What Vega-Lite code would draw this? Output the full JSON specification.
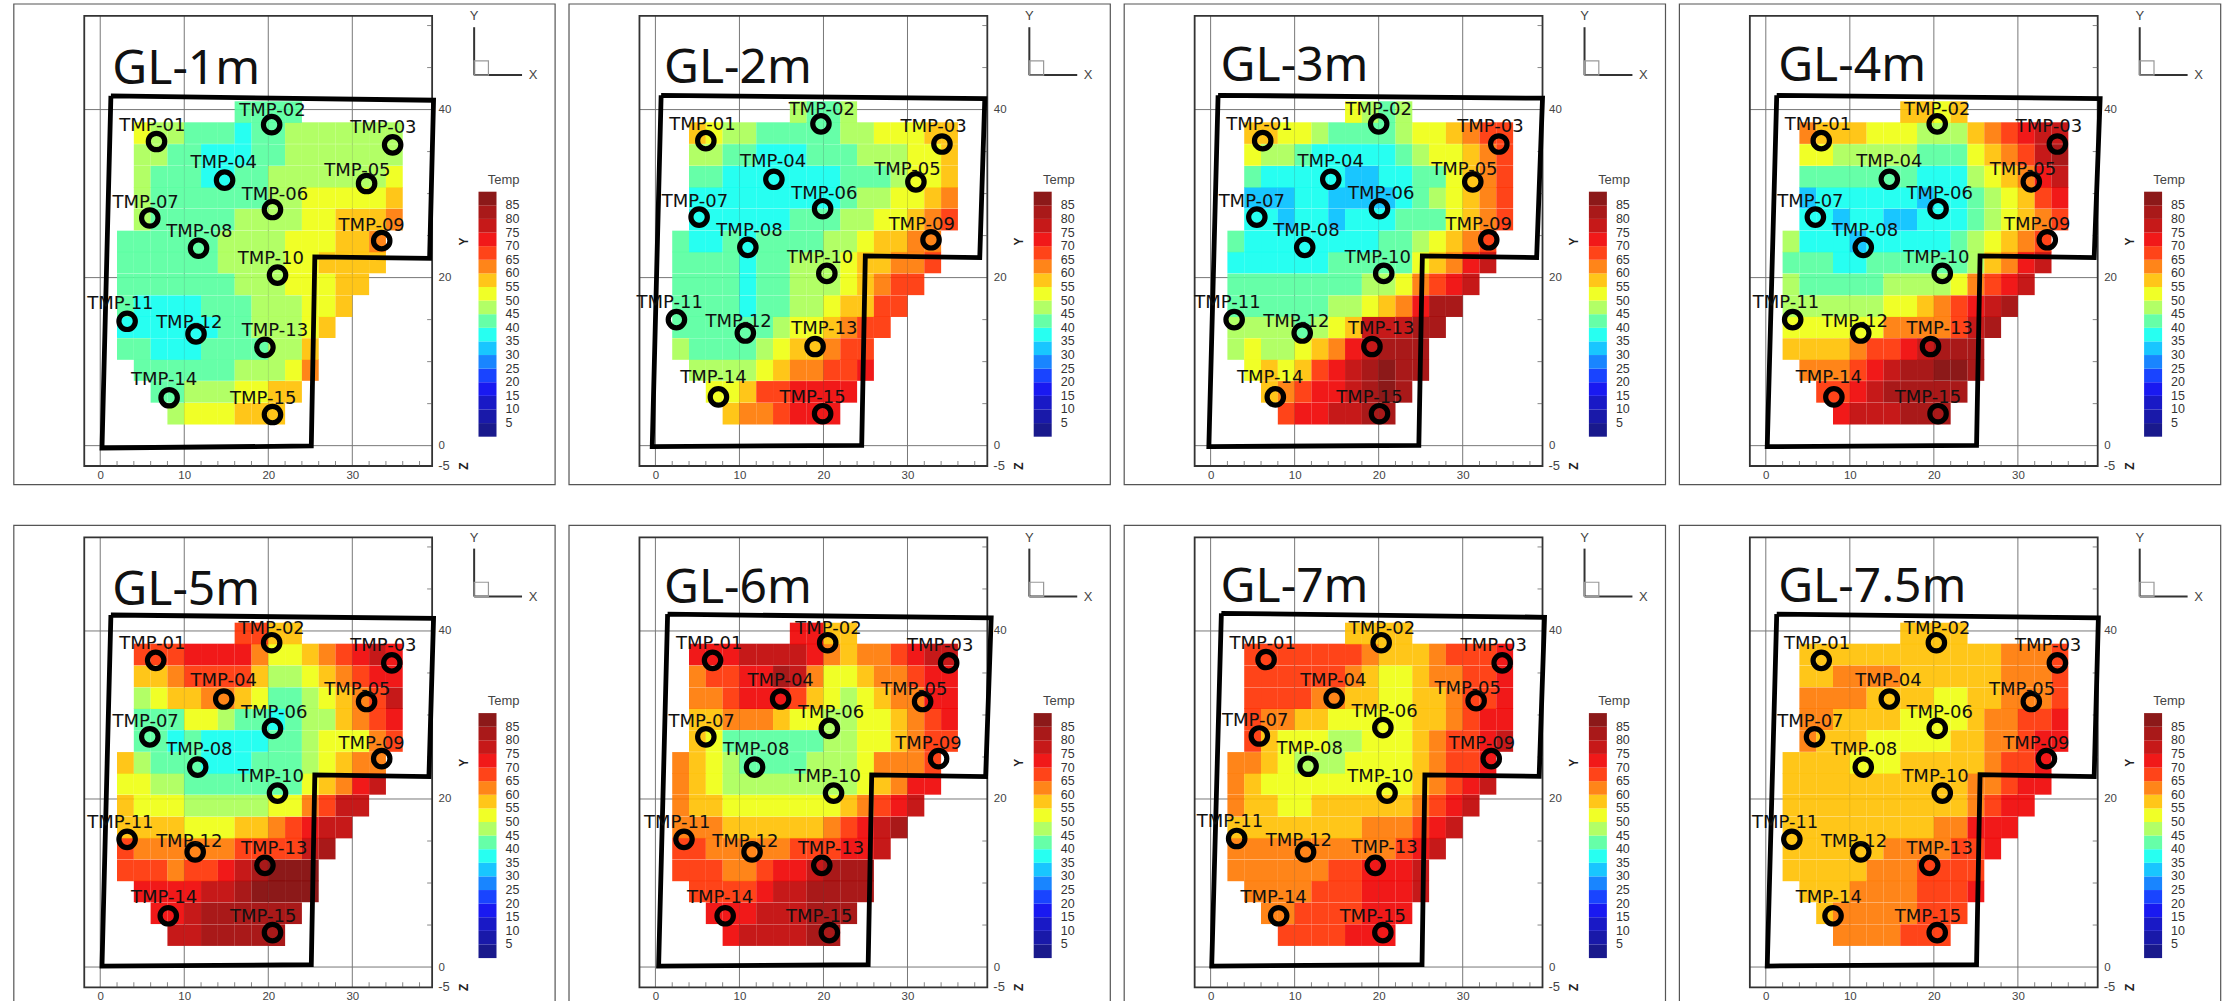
{"$schema":"https://vega.github.io/schema/vega-lite/v6.json","padding":{"left":12.5,"top":2.7,"right":0,"bottom":0},"background":"white","config":{"view":{"stroke":"#555","strokeWidth":1.2,"fill":"white"},"header":{"title":null,"labels":false,"labelExpr":"''","labelFontSize":0.01,"labelPadding":0,"titlePadding":0}},"data":{"values":[
{"p":1,"x":9,"y":3.8,"t":47},{"p":1,"x":11,"y":3.8,"t":52},{"p":1,"x":13,"y":3.8,"t":52},{"p":1,"x":15,"y":3.8,"t":52},{"p":1,"x":17,"y":3.8,"t":57},{"p":1,"x":19,"y":3.8,"t":57},{"p":1,"x":21,"y":3.8,"t":57},
{"p":1,"x":7,"y":6.4,"t":42},{"p":1,"x":9,"y":6.4,"t":42},{"p":1,"x":11,"y":6.4,"t":47},{"p":1,"x":13,"y":6.4,"t":47},{"p":1,"x":15,"y":6.4,"t":47},{"p":1,"x":17,"y":6.4,"t":52},{"p":1,"x":19,"y":6.4,"t":52},{"p":1,"x":21,"y":6.4,"t":57},{"p":1,"x":23,"y":6.4,"t":57},
{"p":1,"x":5,"y":9,"t":42},{"p":1,"x":7,"y":9,"t":42},{"p":1,"x":9,"y":9,"t":42},{"p":1,"x":11,"y":9,"t":42},{"p":1,"x":13,"y":9,"t":42},{"p":1,"x":15,"y":9,"t":42},{"p":1,"x":17,"y":9,"t":47},{"p":1,"x":19,"y":9,"t":47},{"p":1,"x":21,"y":9,"t":47},{"p":1,"x":23,"y":9,"t":52},{"p":1,"x":25,"y":9,"t":62},
{"p":1,"x":3,"y":11.5,"t":42},{"p":1,"x":5,"y":11.5,"t":42},{"p":1,"x":7,"y":11.5,"t":37},{"p":1,"x":9,"y":11.5,"t":37},{"p":1,"x":11,"y":11.5,"t":37},{"p":1,"x":13,"y":11.5,"t":42},{"p":1,"x":15,"y":11.5,"t":42},{"p":1,"x":17,"y":11.5,"t":42},{"p":1,"x":19,"y":11.5,"t":42},{"p":1,"x":21,"y":11.5,"t":47},{"p":1,"x":23,"y":11.5,"t":47},{"p":1,"x":25,"y":11.5,"t":57},
{"p":1,"x":3,"y":14.1,"t":37},{"p":1,"x":5,"y":14.1,"t":37},{"p":1,"x":7,"y":14.1,"t":37},{"p":1,"x":9,"y":14.1,"t":37},{"p":1,"x":11,"y":14.1,"t":37},{"p":1,"x":13,"y":14.1,"t":37},{"p":1,"x":15,"y":14.1,"t":42},{"p":1,"x":17,"y":14.1,"t":42},{"p":1,"x":19,"y":14.1,"t":47},{"p":1,"x":21,"y":14.1,"t":47},{"p":1,"x":23,"y":14.1,"t":47},{"p":1,"x":25,"y":14.1,"t":52},{"p":1,"x":27,"y":14.1,"t":57},
{"p":1,"x":3,"y":16.6,"t":42},{"p":1,"x":5,"y":16.6,"t":37},{"p":1,"x":7,"y":16.6,"t":37},{"p":1,"x":9,"y":16.6,"t":37},{"p":1,"x":11,"y":16.6,"t":37},{"p":1,"x":13,"y":16.6,"t":42},{"p":1,"x":15,"y":16.6,"t":42},{"p":1,"x":17,"y":16.6,"t":42},{"p":1,"x":19,"y":16.6,"t":47},{"p":1,"x":21,"y":16.6,"t":47},{"p":1,"x":23,"y":16.6,"t":47},{"p":1,"x":25,"y":16.6,"t":52},{"p":1,"x":27,"y":16.6,"t":52},{"p":1,"x":29,"y":16.6,"t":57},
{"p":1,"x":3,"y":19.2,"t":42},{"p":1,"x":5,"y":19.2,"t":42},{"p":1,"x":7,"y":19.2,"t":42},{"p":1,"x":9,"y":19.2,"t":42},{"p":1,"x":11,"y":19.2,"t":42},{"p":1,"x":13,"y":19.2,"t":42},{"p":1,"x":15,"y":19.2,"t":42},{"p":1,"x":17,"y":19.2,"t":47},{"p":1,"x":19,"y":19.2,"t":47},{"p":1,"x":21,"y":19.2,"t":47},{"p":1,"x":23,"y":19.2,"t":52},{"p":1,"x":25,"y":19.2,"t":52},{"p":1,"x":27,"y":19.2,"t":52},{"p":1,"x":29,"y":19.2,"t":57},{"p":1,"x":31,"y":19.2,"t":57},
{"p":1,"x":3,"y":21.8,"t":42},{"p":1,"x":5,"y":21.8,"t":42},{"p":1,"x":7,"y":21.8,"t":42},{"p":1,"x":9,"y":21.8,"t":42},{"p":1,"x":11,"y":21.8,"t":42},{"p":1,"x":13,"y":21.8,"t":42},{"p":1,"x":15,"y":21.8,"t":47},{"p":1,"x":17,"y":21.8,"t":47},{"p":1,"x":19,"y":21.8,"t":47},{"p":1,"x":21,"y":21.8,"t":47},{"p":1,"x":23,"y":21.8,"t":52},{"p":1,"x":25,"y":21.8,"t":52},{"p":1,"x":27,"y":21.8,"t":57},{"p":1,"x":29,"y":21.8,"t":57},{"p":1,"x":31,"y":21.8,"t":57},{"p":1,"x":33,"y":21.8,"t":57},
{"p":1,"x":3,"y":24.3,"t":42},{"p":1,"x":5,"y":24.3,"t":42},{"p":1,"x":7,"y":24.3,"t":42},{"p":1,"x":9,"y":24.3,"t":42},{"p":1,"x":11,"y":24.3,"t":42},{"p":1,"x":13,"y":24.3,"t":42},{"p":1,"x":15,"y":24.3,"t":47},{"p":1,"x":17,"y":24.3,"t":47},{"p":1,"x":19,"y":24.3,"t":47},{"p":1,"x":21,"y":24.3,"t":47},{"p":1,"x":23,"y":24.3,"t":52},{"p":1,"x":25,"y":24.3,"t":52},{"p":1,"x":27,"y":24.3,"t":52},{"p":1,"x":29,"y":24.3,"t":57},{"p":1,"x":31,"y":24.3,"t":57},{"p":1,"x":33,"y":24.3,"t":62},
{"p":1,"x":5,"y":26.9,"t":47},{"p":1,"x":7,"y":26.9,"t":42},{"p":1,"x":9,"y":26.9,"t":42},{"p":1,"x":11,"y":26.9,"t":42},{"p":1,"x":13,"y":26.9,"t":42},{"p":1,"x":15,"y":26.9,"t":42},{"p":1,"x":17,"y":26.9,"t":47},{"p":1,"x":19,"y":26.9,"t":47},{"p":1,"x":21,"y":26.9,"t":47},{"p":1,"x":23,"y":26.9,"t":47},{"p":1,"x":25,"y":26.9,"t":52},{"p":1,"x":27,"y":26.9,"t":52},{"p":1,"x":29,"y":26.9,"t":57},{"p":1,"x":31,"y":26.9,"t":57},{"p":1,"x":33,"y":26.9,"t":57},{"p":1,"x":35,"y":26.9,"t":62},
{"p":1,"x":5,"y":29.5,"t":47},{"p":1,"x":7,"y":29.5,"t":42},{"p":1,"x":9,"y":29.5,"t":42},{"p":1,"x":11,"y":29.5,"t":42},{"p":1,"x":13,"y":29.5,"t":42},{"p":1,"x":15,"y":29.5,"t":42},{"p":1,"x":17,"y":29.5,"t":42},{"p":1,"x":19,"y":29.5,"t":42},{"p":1,"x":21,"y":29.5,"t":47},{"p":1,"x":23,"y":29.5,"t":47},{"p":1,"x":25,"y":29.5,"t":52},{"p":1,"x":27,"y":29.5,"t":52},{"p":1,"x":29,"y":29.5,"t":52},{"p":1,"x":31,"y":29.5,"t":52},{"p":1,"x":33,"y":29.5,"t":52},{"p":1,"x":35,"y":29.5,"t":57},
{"p":1,"x":5,"y":32,"t":47},{"p":1,"x":7,"y":32,"t":42},{"p":1,"x":9,"y":32,"t":42},{"p":1,"x":11,"y":32,"t":42},{"p":1,"x":13,"y":32,"t":37},{"p":1,"x":15,"y":32,"t":37},{"p":1,"x":17,"y":32,"t":42},{"p":1,"x":19,"y":32,"t":42},{"p":1,"x":21,"y":32,"t":47},{"p":1,"x":23,"y":32,"t":47},{"p":1,"x":25,"y":32,"t":47},{"p":1,"x":27,"y":32,"t":47},{"p":1,"x":29,"y":32,"t":47},{"p":1,"x":31,"y":32,"t":47},{"p":1,"x":33,"y":32,"t":47},{"p":1,"x":35,"y":32,"t":52},
{"p":1,"x":5,"y":34.6,"t":47},{"p":1,"x":7,"y":34.6,"t":47},{"p":1,"x":9,"y":34.6,"t":42},{"p":1,"x":11,"y":34.6,"t":42},{"p":1,"x":13,"y":34.6,"t":37},{"p":1,"x":15,"y":34.6,"t":37},{"p":1,"x":17,"y":34.6,"t":37},{"p":1,"x":19,"y":34.6,"t":42},{"p":1,"x":21,"y":34.6,"t":42},{"p":1,"x":23,"y":34.6,"t":47},{"p":1,"x":25,"y":34.6,"t":47},{"p":1,"x":27,"y":34.6,"t":47},{"p":1,"x":29,"y":34.6,"t":47},{"p":1,"x":31,"y":34.6,"t":47},{"p":1,"x":33,"y":34.6,"t":47},{"p":1,"x":35,"y":34.6,"t":47},
{"p":1,"x":5,"y":37.2,"t":52},{"p":1,"x":7,"y":37.2,"t":47},{"p":1,"x":9,"y":37.2,"t":47},{"p":1,"x":11,"y":37.2,"t":42},{"p":1,"x":13,"y":37.2,"t":42},{"p":1,"x":15,"y":37.2,"t":42},{"p":1,"x":17,"y":37.2,"t":37},{"p":1,"x":19,"y":37.2,"t":42},{"p":1,"x":21,"y":37.2,"t":42},{"p":1,"x":23,"y":37.2,"t":47},{"p":1,"x":25,"y":37.2,"t":47},{"p":1,"x":27,"y":37.2,"t":47},{"p":1,"x":29,"y":37.2,"t":47},{"p":1,"x":31,"y":37.2,"t":47},{"p":1,"x":33,"y":37.2,"t":47},{"p":1,"x":35,"y":37.2,"t":47},
{"p":1,"x":17,"y":39.7,"t":42},{"p":1,"x":19,"y":39.7,"t":42},{"p":1,"x":21,"y":39.7,"t":42},{"p":1,"x":23,"y":39.7,"t":42},
{"p":2,"x":9,"y":3.8,"t":57},{"p":2,"x":11,"y":3.8,"t":62},{"p":2,"x":13,"y":3.8,"t":62},{"p":2,"x":15,"y":3.8,"t":67},{"p":2,"x":17,"y":3.8,"t":72},{"p":2,"x":19,"y":3.8,"t":72},{"p":2,"x":21,"y":3.8,"t":72},
{"p":2,"x":7,"y":6.4,"t":52},{"p":2,"x":9,"y":6.4,"t":52},{"p":2,"x":11,"y":6.4,"t":57},{"p":2,"x":13,"y":6.4,"t":67},{"p":2,"x":15,"y":6.4,"t":67},{"p":2,"x":17,"y":6.4,"t":72},{"p":2,"x":19,"y":6.4,"t":72},{"p":2,"x":21,"y":6.4,"t":72},{"p":2,"x":23,"y":6.4,"t":72},
{"p":2,"x":5,"y":9,"t":47},{"p":2,"x":7,"y":9,"t":47},{"p":2,"x":9,"y":9,"t":47},{"p":2,"x":11,"y":9,"t":47},{"p":2,"x":13,"y":9,"t":52},{"p":2,"x":15,"y":9,"t":57},{"p":2,"x":17,"y":9,"t":62},{"p":2,"x":19,"y":9,"t":62},{"p":2,"x":21,"y":9,"t":67},{"p":2,"x":23,"y":9,"t":67},{"p":2,"x":25,"y":9,"t":72},
{"p":2,"x":3,"y":11.5,"t":47},{"p":2,"x":5,"y":11.5,"t":42},{"p":2,"x":7,"y":11.5,"t":42},{"p":2,"x":9,"y":11.5,"t":42},{"p":2,"x":11,"y":11.5,"t":42},{"p":2,"x":13,"y":11.5,"t":47},{"p":2,"x":15,"y":11.5,"t":52},{"p":2,"x":17,"y":11.5,"t":57},{"p":2,"x":19,"y":11.5,"t":57},{"p":2,"x":21,"y":11.5,"t":62},{"p":2,"x":23,"y":11.5,"t":67},{"p":2,"x":25,"y":11.5,"t":67},
{"p":2,"x":3,"y":14.1,"t":42},{"p":2,"x":5,"y":14.1,"t":42},{"p":2,"x":7,"y":14.1,"t":42},{"p":2,"x":9,"y":14.1,"t":42},{"p":2,"x":11,"y":14.1,"t":42},{"p":2,"x":13,"y":14.1,"t":42},{"p":2,"x":15,"y":14.1,"t":47},{"p":2,"x":17,"y":14.1,"t":52},{"p":2,"x":19,"y":14.1,"t":52},{"p":2,"x":21,"y":14.1,"t":57},{"p":2,"x":23,"y":14.1,"t":62},{"p":2,"x":25,"y":14.1,"t":67},{"p":2,"x":27,"y":14.1,"t":67},
{"p":2,"x":3,"y":16.6,"t":42},{"p":2,"x":5,"y":16.6,"t":42},{"p":2,"x":7,"y":16.6,"t":42},{"p":2,"x":9,"y":16.6,"t":42},{"p":2,"x":11,"y":16.6,"t":37},{"p":2,"x":13,"y":16.6,"t":42},{"p":2,"x":15,"y":16.6,"t":42},{"p":2,"x":17,"y":16.6,"t":47},{"p":2,"x":19,"y":16.6,"t":47},{"p":2,"x":21,"y":16.6,"t":52},{"p":2,"x":23,"y":16.6,"t":57},{"p":2,"x":25,"y":16.6,"t":57},{"p":2,"x":27,"y":16.6,"t":67},{"p":2,"x":29,"y":16.6,"t":67},
{"p":2,"x":3,"y":19.2,"t":42},{"p":2,"x":5,"y":19.2,"t":42},{"p":2,"x":7,"y":19.2,"t":42},{"p":2,"x":9,"y":19.2,"t":42},{"p":2,"x":11,"y":19.2,"t":37},{"p":2,"x":13,"y":19.2,"t":42},{"p":2,"x":15,"y":19.2,"t":42},{"p":2,"x":17,"y":19.2,"t":47},{"p":2,"x":19,"y":19.2,"t":47},{"p":2,"x":21,"y":19.2,"t":47},{"p":2,"x":23,"y":19.2,"t":52},{"p":2,"x":25,"y":19.2,"t":57},{"p":2,"x":27,"y":19.2,"t":62},{"p":2,"x":29,"y":19.2,"t":67},{"p":2,"x":31,"y":19.2,"t":67},
{"p":2,"x":3,"y":21.8,"t":42},{"p":2,"x":5,"y":21.8,"t":42},{"p":2,"x":7,"y":21.8,"t":42},{"p":2,"x":9,"y":21.8,"t":42},{"p":2,"x":11,"y":21.8,"t":37},{"p":2,"x":13,"y":21.8,"t":42},{"p":2,"x":15,"y":21.8,"t":42},{"p":2,"x":17,"y":21.8,"t":47},{"p":2,"x":19,"y":21.8,"t":47},{"p":2,"x":21,"y":21.8,"t":47},{"p":2,"x":23,"y":21.8,"t":52},{"p":2,"x":25,"y":21.8,"t":57},{"p":2,"x":27,"y":21.8,"t":57},{"p":2,"x":29,"y":21.8,"t":62},{"p":2,"x":31,"y":21.8,"t":62},{"p":2,"x":33,"y":21.8,"t":67},
{"p":2,"x":3,"y":24.3,"t":42},{"p":2,"x":5,"y":24.3,"t":37},{"p":2,"x":7,"y":24.3,"t":37},{"p":2,"x":9,"y":24.3,"t":42},{"p":2,"x":11,"y":24.3,"t":37},{"p":2,"x":13,"y":24.3,"t":42},{"p":2,"x":15,"y":24.3,"t":42},{"p":2,"x":17,"y":24.3,"t":42},{"p":2,"x":19,"y":24.3,"t":42},{"p":2,"x":21,"y":24.3,"t":47},{"p":2,"x":23,"y":24.3,"t":47},{"p":2,"x":25,"y":24.3,"t":52},{"p":2,"x":27,"y":24.3,"t":57},{"p":2,"x":29,"y":24.3,"t":57},{"p":2,"x":31,"y":24.3,"t":62},{"p":2,"x":33,"y":24.3,"t":62},
{"p":2,"x":5,"y":26.9,"t":37},{"p":2,"x":7,"y":26.9,"t":37},{"p":2,"x":9,"y":26.9,"t":37},{"p":2,"x":11,"y":26.9,"t":37},{"p":2,"x":13,"y":26.9,"t":37},{"p":2,"x":15,"y":26.9,"t":37},{"p":2,"x":17,"y":26.9,"t":42},{"p":2,"x":19,"y":26.9,"t":42},{"p":2,"x":21,"y":26.9,"t":42},{"p":2,"x":23,"y":26.9,"t":47},{"p":2,"x":25,"y":26.9,"t":47},{"p":2,"x":27,"y":26.9,"t":52},{"p":2,"x":29,"y":26.9,"t":52},{"p":2,"x":31,"y":26.9,"t":57},{"p":2,"x":33,"y":26.9,"t":62},{"p":2,"x":35,"y":26.9,"t":67},
{"p":2,"x":5,"y":29.5,"t":37},{"p":2,"x":7,"y":29.5,"t":37},{"p":2,"x":9,"y":29.5,"t":37},{"p":2,"x":11,"y":29.5,"t":37},{"p":2,"x":13,"y":29.5,"t":37},{"p":2,"x":15,"y":29.5,"t":37},{"p":2,"x":17,"y":29.5,"t":37},{"p":2,"x":19,"y":29.5,"t":37},{"p":2,"x":21,"y":29.5,"t":37},{"p":2,"x":23,"y":29.5,"t":42},{"p":2,"x":25,"y":29.5,"t":47},{"p":2,"x":27,"y":29.5,"t":47},{"p":2,"x":29,"y":29.5,"t":52},{"p":2,"x":31,"y":29.5,"t":52},{"p":2,"x":33,"y":29.5,"t":57},{"p":2,"x":35,"y":29.5,"t":62},
{"p":2,"x":5,"y":32,"t":42},{"p":2,"x":7,"y":32,"t":42},{"p":2,"x":9,"y":32,"t":37},{"p":2,"x":11,"y":32,"t":37},{"p":2,"x":13,"y":32,"t":37},{"p":2,"x":15,"y":32,"t":37},{"p":2,"x":17,"y":32,"t":37},{"p":2,"x":19,"y":32,"t":37},{"p":2,"x":21,"y":32,"t":37},{"p":2,"x":23,"y":32,"t":42},{"p":2,"x":25,"y":32,"t":42},{"p":2,"x":27,"y":32,"t":42},{"p":2,"x":29,"y":32,"t":47},{"p":2,"x":31,"y":32,"t":52},{"p":2,"x":33,"y":32,"t":52},{"p":2,"x":35,"y":32,"t":57},
{"p":2,"x":5,"y":34.6,"t":47},{"p":2,"x":7,"y":34.6,"t":47},{"p":2,"x":9,"y":34.6,"t":42},{"p":2,"x":11,"y":34.6,"t":42},{"p":2,"x":13,"y":34.6,"t":37},{"p":2,"x":15,"y":34.6,"t":37},{"p":2,"x":17,"y":34.6,"t":37},{"p":2,"x":19,"y":34.6,"t":42},{"p":2,"x":21,"y":34.6,"t":42},{"p":2,"x":23,"y":34.6,"t":42},{"p":2,"x":25,"y":34.6,"t":47},{"p":2,"x":27,"y":34.6,"t":47},{"p":2,"x":29,"y":34.6,"t":47},{"p":2,"x":31,"y":34.6,"t":52},{"p":2,"x":33,"y":34.6,"t":52},{"p":2,"x":35,"y":34.6,"t":57},
{"p":2,"x":5,"y":37.2,"t":57},{"p":2,"x":7,"y":37.2,"t":52},{"p":2,"x":9,"y":37.2,"t":47},{"p":2,"x":11,"y":37.2,"t":47},{"p":2,"x":13,"y":37.2,"t":42},{"p":2,"x":15,"y":37.2,"t":42},{"p":2,"x":17,"y":37.2,"t":42},{"p":2,"x":19,"y":37.2,"t":42},{"p":2,"x":21,"y":37.2,"t":42},{"p":2,"x":23,"y":37.2,"t":47},{"p":2,"x":25,"y":37.2,"t":47},{"p":2,"x":27,"y":37.2,"t":52},{"p":2,"x":29,"y":37.2,"t":52},{"p":2,"x":31,"y":37.2,"t":52},{"p":2,"x":33,"y":37.2,"t":57},{"p":2,"x":35,"y":37.2,"t":57},
{"p":2,"x":17,"y":39.7,"t":47},{"p":2,"x":19,"y":39.7,"t":42},{"p":2,"x":21,"y":39.7,"t":42},{"p":2,"x":23,"y":39.7,"t":47},
{"p":3,"x":9,"y":3.8,"t":67},{"p":3,"x":11,"y":3.8,"t":72},{"p":3,"x":13,"y":3.8,"t":72},{"p":3,"x":15,"y":3.8,"t":77},{"p":3,"x":17,"y":3.8,"t":77},{"p":3,"x":19,"y":3.8,"t":82},{"p":3,"x":21,"y":3.8,"t":82},
{"p":3,"x":7,"y":6.4,"t":57},{"p":3,"x":9,"y":6.4,"t":62},{"p":3,"x":11,"y":6.4,"t":67},{"p":3,"x":13,"y":6.4,"t":72},{"p":3,"x":15,"y":6.4,"t":72},{"p":3,"x":17,"y":6.4,"t":77},{"p":3,"x":19,"y":6.4,"t":82},{"p":3,"x":21,"y":6.4,"t":87},{"p":3,"x":23,"y":6.4,"t":82},
{"p":3,"x":5,"y":9,"t":52},{"p":3,"x":7,"y":9,"t":57},{"p":3,"x":9,"y":9,"t":52},{"p":3,"x":11,"y":9,"t":57},{"p":3,"x":13,"y":9,"t":67},{"p":3,"x":15,"y":9,"t":72},{"p":3,"x":17,"y":9,"t":77},{"p":3,"x":19,"y":9,"t":82},{"p":3,"x":21,"y":9,"t":87},{"p":3,"x":23,"y":9,"t":82},{"p":3,"x":25,"y":9,"t":82},
{"p":3,"x":3,"y":11.5,"t":47},{"p":3,"x":5,"y":11.5,"t":52},{"p":3,"x":7,"y":11.5,"t":47},{"p":3,"x":9,"y":11.5,"t":47},{"p":3,"x":11,"y":11.5,"t":52},{"p":3,"x":13,"y":11.5,"t":57},{"p":3,"x":15,"y":11.5,"t":62},{"p":3,"x":17,"y":11.5,"t":72},{"p":3,"x":19,"y":11.5,"t":77},{"p":3,"x":21,"y":11.5,"t":82},{"p":3,"x":23,"y":11.5,"t":82},{"p":3,"x":25,"y":11.5,"t":82},
{"p":3,"x":3,"y":14.1,"t":47},{"p":3,"x":5,"y":14.1,"t":47},{"p":3,"x":7,"y":14.1,"t":47},{"p":3,"x":9,"y":14.1,"t":47},{"p":3,"x":11,"y":14.1,"t":42},{"p":3,"x":13,"y":14.1,"t":47},{"p":3,"x":15,"y":14.1,"t":52},{"p":3,"x":17,"y":14.1,"t":57},{"p":3,"x":19,"y":14.1,"t":77},{"p":3,"x":21,"y":14.1,"t":77},{"p":3,"x":23,"y":14.1,"t":77},{"p":3,"x":25,"y":14.1,"t":82},{"p":3,"x":27,"y":14.1,"t":82},
{"p":3,"x":3,"y":16.6,"t":42},{"p":3,"x":5,"y":16.6,"t":42},{"p":3,"x":7,"y":16.6,"t":42},{"p":3,"x":9,"y":16.6,"t":42},{"p":3,"x":11,"y":16.6,"t":42},{"p":3,"x":13,"y":16.6,"t":42},{"p":3,"x":15,"y":16.6,"t":47},{"p":3,"x":17,"y":16.6,"t":47},{"p":3,"x":19,"y":16.6,"t":52},{"p":3,"x":21,"y":16.6,"t":57},{"p":3,"x":23,"y":16.6,"t":62},{"p":3,"x":25,"y":16.6,"t":72},{"p":3,"x":27,"y":16.6,"t":82},{"p":3,"x":29,"y":16.6,"t":82},
{"p":3,"x":3,"y":19.2,"t":42},{"p":3,"x":5,"y":19.2,"t":42},{"p":3,"x":7,"y":19.2,"t":42},{"p":3,"x":9,"y":19.2,"t":42},{"p":3,"x":11,"y":19.2,"t":42},{"p":3,"x":13,"y":19.2,"t":42},{"p":3,"x":15,"y":19.2,"t":42},{"p":3,"x":17,"y":19.2,"t":42},{"p":3,"x":19,"y":19.2,"t":47},{"p":3,"x":21,"y":19.2,"t":47},{"p":3,"x":23,"y":19.2,"t":52},{"p":3,"x":25,"y":19.2,"t":62},{"p":3,"x":27,"y":19.2,"t":67},{"p":3,"x":29,"y":19.2,"t":72},{"p":3,"x":31,"y":19.2,"t":77},
{"p":3,"x":3,"y":21.8,"t":37},{"p":3,"x":5,"y":21.8,"t":37},{"p":3,"x":7,"y":21.8,"t":37},{"p":3,"x":9,"y":21.8,"t":37},{"p":3,"x":11,"y":21.8,"t":37},{"p":3,"x":13,"y":21.8,"t":37},{"p":3,"x":15,"y":21.8,"t":42},{"p":3,"x":17,"y":21.8,"t":42},{"p":3,"x":19,"y":21.8,"t":42},{"p":3,"x":21,"y":21.8,"t":42},{"p":3,"x":23,"y":21.8,"t":42},{"p":3,"x":25,"y":21.8,"t":52},{"p":3,"x":27,"y":21.8,"t":57},{"p":3,"x":29,"y":21.8,"t":62},{"p":3,"x":31,"y":21.8,"t":72},{"p":3,"x":33,"y":21.8,"t":77},
{"p":3,"x":3,"y":24.3,"t":42},{"p":3,"x":5,"y":24.3,"t":37},{"p":3,"x":7,"y":24.3,"t":37},{"p":3,"x":9,"y":24.3,"t":37},{"p":3,"x":11,"y":24.3,"t":37},{"p":3,"x":13,"y":24.3,"t":37},{"p":3,"x":15,"y":24.3,"t":37},{"p":3,"x":17,"y":24.3,"t":37},{"p":3,"x":19,"y":24.3,"t":37},{"p":3,"x":21,"y":24.3,"t":42},{"p":3,"x":23,"y":24.3,"t":42},{"p":3,"x":25,"y":24.3,"t":47},{"p":3,"x":27,"y":24.3,"t":52},{"p":3,"x":29,"y":24.3,"t":57},{"p":3,"x":31,"y":24.3,"t":62},{"p":3,"x":33,"y":24.3,"t":67},
{"p":3,"x":5,"y":26.9,"t":37},{"p":3,"x":7,"y":26.9,"t":37},{"p":3,"x":9,"y":26.9,"t":32},{"p":3,"x":11,"y":26.9,"t":37},{"p":3,"x":13,"y":26.9,"t":37},{"p":3,"x":15,"y":26.9,"t":32},{"p":3,"x":17,"y":26.9,"t":37},{"p":3,"x":19,"y":26.9,"t":37},{"p":3,"x":21,"y":26.9,"t":37},{"p":3,"x":23,"y":26.9,"t":42},{"p":3,"x":25,"y":26.9,"t":42},{"p":3,"x":27,"y":26.9,"t":42},{"p":3,"x":29,"y":26.9,"t":52},{"p":3,"x":31,"y":26.9,"t":57},{"p":3,"x":33,"y":26.9,"t":62},{"p":3,"x":35,"y":26.9,"t":67},
{"p":3,"x":5,"y":29.5,"t":32},{"p":3,"x":7,"y":29.5,"t":32},{"p":3,"x":9,"y":29.5,"t":32},{"p":3,"x":11,"y":29.5,"t":37},{"p":3,"x":13,"y":29.5,"t":37},{"p":3,"x":15,"y":29.5,"t":32},{"p":3,"x":17,"y":29.5,"t":32},{"p":3,"x":19,"y":29.5,"t":32},{"p":3,"x":21,"y":29.5,"t":32},{"p":3,"x":23,"y":29.5,"t":37},{"p":3,"x":25,"y":29.5,"t":42},{"p":3,"x":27,"y":29.5,"t":47},{"p":3,"x":29,"y":29.5,"t":52},{"p":3,"x":31,"y":29.5,"t":57},{"p":3,"x":33,"y":29.5,"t":62},{"p":3,"x":35,"y":29.5,"t":67},
{"p":3,"x":5,"y":32,"t":42},{"p":3,"x":7,"y":32,"t":37},{"p":3,"x":9,"y":32,"t":37},{"p":3,"x":11,"y":32,"t":37},{"p":3,"x":13,"y":32,"t":37},{"p":3,"x":15,"y":32,"t":37},{"p":3,"x":17,"y":32,"t":32},{"p":3,"x":19,"y":32,"t":32},{"p":3,"x":21,"y":32,"t":37},{"p":3,"x":23,"y":32,"t":37},{"p":3,"x":25,"y":32,"t":42},{"p":3,"x":27,"y":32,"t":42},{"p":3,"x":29,"y":32,"t":52},{"p":3,"x":31,"y":32,"t":57},{"p":3,"x":33,"y":32,"t":62},{"p":3,"x":35,"y":32,"t":67},
{"p":3,"x":5,"y":34.6,"t":52},{"p":3,"x":7,"y":34.6,"t":47},{"p":3,"x":9,"y":34.6,"t":47},{"p":3,"x":11,"y":34.6,"t":42},{"p":3,"x":13,"y":34.6,"t":37},{"p":3,"x":15,"y":34.6,"t":37},{"p":3,"x":17,"y":34.6,"t":37},{"p":3,"x":19,"y":34.6,"t":37},{"p":3,"x":21,"y":34.6,"t":37},{"p":3,"x":23,"y":34.6,"t":42},{"p":3,"x":25,"y":34.6,"t":47},{"p":3,"x":27,"y":34.6,"t":52},{"p":3,"x":29,"y":34.6,"t":52},{"p":3,"x":31,"y":34.6,"t":57},{"p":3,"x":33,"y":34.6,"t":62},{"p":3,"x":35,"y":34.6,"t":67},
{"p":3,"x":5,"y":37.2,"t":57},{"p":3,"x":7,"y":37.2,"t":57},{"p":3,"x":9,"y":37.2,"t":52},{"p":3,"x":11,"y":37.2,"t":52},{"p":3,"x":13,"y":37.2,"t":47},{"p":3,"x":15,"y":37.2,"t":42},{"p":3,"x":17,"y":37.2,"t":42},{"p":3,"x":19,"y":37.2,"t":42},{"p":3,"x":21,"y":37.2,"t":42},{"p":3,"x":23,"y":37.2,"t":47},{"p":3,"x":25,"y":37.2,"t":52},{"p":3,"x":27,"y":37.2,"t":52},{"p":3,"x":29,"y":37.2,"t":57},{"p":3,"x":31,"y":37.2,"t":62},{"p":3,"x":33,"y":37.2,"t":67},{"p":3,"x":35,"y":37.2,"t":67},
{"p":3,"x":17,"y":39.7,"t":52},{"p":3,"x":19,"y":39.7,"t":47},{"p":3,"x":21,"y":39.7,"t":42},{"p":3,"x":23,"y":39.7,"t":47},
{"p":4,"x":9,"y":3.8,"t":72},{"p":4,"x":11,"y":3.8,"t":77},{"p":4,"x":13,"y":3.8,"t":77},{"p":4,"x":15,"y":3.8,"t":77},{"p":4,"x":17,"y":3.8,"t":82},{"p":4,"x":19,"y":3.8,"t":82},{"p":4,"x":21,"y":3.8,"t":82},
{"p":4,"x":7,"y":6.4,"t":67},{"p":4,"x":9,"y":6.4,"t":67},{"p":4,"x":11,"y":6.4,"t":72},{"p":4,"x":13,"y":6.4,"t":77},{"p":4,"x":15,"y":6.4,"t":82},{"p":4,"x":17,"y":6.4,"t":82},{"p":4,"x":19,"y":6.4,"t":82},{"p":4,"x":21,"y":6.4,"t":82},{"p":4,"x":23,"y":6.4,"t":82},
{"p":4,"x":5,"y":9,"t":62},{"p":4,"x":7,"y":9,"t":62},{"p":4,"x":9,"y":9,"t":62},{"p":4,"x":11,"y":9,"t":67},{"p":4,"x":13,"y":9,"t":72},{"p":4,"x":15,"y":9,"t":77},{"p":4,"x":17,"y":9,"t":82},{"p":4,"x":19,"y":9,"t":82},{"p":4,"x":21,"y":9,"t":87},{"p":4,"x":23,"y":9,"t":87},{"p":4,"x":25,"y":9,"t":82},
{"p":4,"x":3,"y":11.5,"t":57},{"p":4,"x":5,"y":11.5,"t":57},{"p":4,"x":7,"y":11.5,"t":57},{"p":4,"x":9,"y":11.5,"t":57},{"p":4,"x":11,"y":11.5,"t":62},{"p":4,"x":13,"y":11.5,"t":67},{"p":4,"x":15,"y":11.5,"t":67},{"p":4,"x":17,"y":11.5,"t":72},{"p":4,"x":19,"y":11.5,"t":77},{"p":4,"x":21,"y":11.5,"t":82},{"p":4,"x":23,"y":11.5,"t":82},{"p":4,"x":25,"y":11.5,"t":82},
{"p":4,"x":3,"y":14.1,"t":52},{"p":4,"x":5,"y":14.1,"t":52},{"p":4,"x":7,"y":14.1,"t":52},{"p":4,"x":9,"y":14.1,"t":52},{"p":4,"x":11,"y":14.1,"t":52},{"p":4,"x":13,"y":14.1,"t":52},{"p":4,"x":15,"y":14.1,"t":62},{"p":4,"x":17,"y":14.1,"t":62},{"p":4,"x":19,"y":14.1,"t":62},{"p":4,"x":21,"y":14.1,"t":62},{"p":4,"x":23,"y":14.1,"t":67},{"p":4,"x":25,"y":14.1,"t":77},{"p":4,"x":27,"y":14.1,"t":82},
{"p":4,"x":3,"y":16.6,"t":47},{"p":4,"x":5,"y":16.6,"t":47},{"p":4,"x":7,"y":16.6,"t":47},{"p":4,"x":9,"y":16.6,"t":47},{"p":4,"x":11,"y":16.6,"t":47},{"p":4,"x":13,"y":16.6,"t":47},{"p":4,"x":15,"y":16.6,"t":52},{"p":4,"x":17,"y":16.6,"t":52},{"p":4,"x":19,"y":16.6,"t":57},{"p":4,"x":21,"y":16.6,"t":62},{"p":4,"x":23,"y":16.6,"t":67},{"p":4,"x":25,"y":16.6,"t":72},{"p":4,"x":27,"y":16.6,"t":77},{"p":4,"x":29,"y":16.6,"t":82},
{"p":4,"x":3,"y":19.2,"t":47},{"p":4,"x":5,"y":19.2,"t":42},{"p":4,"x":7,"y":19.2,"t":42},{"p":4,"x":9,"y":19.2,"t":42},{"p":4,"x":11,"y":19.2,"t":42},{"p":4,"x":13,"y":19.2,"t":42},{"p":4,"x":15,"y":19.2,"t":47},{"p":4,"x":17,"y":19.2,"t":47},{"p":4,"x":19,"y":19.2,"t":47},{"p":4,"x":21,"y":19.2,"t":47},{"p":4,"x":23,"y":19.2,"t":52},{"p":4,"x":25,"y":19.2,"t":62},{"p":4,"x":27,"y":19.2,"t":67},{"p":4,"x":29,"y":19.2,"t":72},{"p":4,"x":31,"y":19.2,"t":77},
{"p":4,"x":3,"y":21.8,"t":42},{"p":4,"x":5,"y":21.8,"t":42},{"p":4,"x":7,"y":21.8,"t":42},{"p":4,"x":9,"y":21.8,"t":37},{"p":4,"x":11,"y":21.8,"t":37},{"p":4,"x":13,"y":21.8,"t":42},{"p":4,"x":15,"y":21.8,"t":42},{"p":4,"x":17,"y":21.8,"t":42},{"p":4,"x":19,"y":21.8,"t":42},{"p":4,"x":21,"y":21.8,"t":42},{"p":4,"x":23,"y":21.8,"t":42},{"p":4,"x":25,"y":21.8,"t":47},{"p":4,"x":27,"y":21.8,"t":57},{"p":4,"x":29,"y":21.8,"t":62},{"p":4,"x":31,"y":21.8,"t":72},{"p":4,"x":33,"y":21.8,"t":77},
{"p":4,"x":3,"y":24.3,"t":47},{"p":4,"x":5,"y":24.3,"t":37},{"p":4,"x":7,"y":24.3,"t":37},{"p":4,"x":9,"y":24.3,"t":37},{"p":4,"x":11,"y":24.3,"t":32},{"p":4,"x":13,"y":24.3,"t":37},{"p":4,"x":15,"y":24.3,"t":37},{"p":4,"x":17,"y":24.3,"t":37},{"p":4,"x":19,"y":24.3,"t":37},{"p":4,"x":21,"y":24.3,"t":37},{"p":4,"x":23,"y":24.3,"t":42},{"p":4,"x":25,"y":24.3,"t":47},{"p":4,"x":27,"y":24.3,"t":52},{"p":4,"x":29,"y":24.3,"t":57},{"p":4,"x":31,"y":24.3,"t":62},{"p":4,"x":33,"y":24.3,"t":67},
{"p":4,"x":5,"y":26.9,"t":37},{"p":4,"x":7,"y":26.9,"t":37},{"p":4,"x":9,"y":26.9,"t":32},{"p":4,"x":11,"y":26.9,"t":37},{"p":4,"x":13,"y":26.9,"t":37},{"p":4,"x":15,"y":26.9,"t":32},{"p":4,"x":17,"y":26.9,"t":32},{"p":4,"x":19,"y":26.9,"t":37},{"p":4,"x":21,"y":26.9,"t":37},{"p":4,"x":23,"y":26.9,"t":37},{"p":4,"x":25,"y":26.9,"t":42},{"p":4,"x":27,"y":26.9,"t":47},{"p":4,"x":29,"y":26.9,"t":52},{"p":4,"x":31,"y":26.9,"t":57},{"p":4,"x":33,"y":26.9,"t":62},{"p":4,"x":35,"y":26.9,"t":67},
{"p":4,"x":5,"y":29.5,"t":32},{"p":4,"x":7,"y":29.5,"t":37},{"p":4,"x":9,"y":29.5,"t":37},{"p":4,"x":11,"y":29.5,"t":37},{"p":4,"x":13,"y":29.5,"t":37},{"p":4,"x":15,"y":29.5,"t":37},{"p":4,"x":17,"y":29.5,"t":37},{"p":4,"x":19,"y":29.5,"t":32},{"p":4,"x":21,"y":29.5,"t":37},{"p":4,"x":23,"y":29.5,"t":37},{"p":4,"x":25,"y":29.5,"t":42},{"p":4,"x":27,"y":29.5,"t":47},{"p":4,"x":29,"y":29.5,"t":52},{"p":4,"x":31,"y":29.5,"t":57},{"p":4,"x":33,"y":29.5,"t":67},{"p":4,"x":35,"y":29.5,"t":72},
{"p":4,"x":5,"y":32,"t":42},{"p":4,"x":7,"y":32,"t":42},{"p":4,"x":9,"y":32,"t":42},{"p":4,"x":11,"y":32,"t":42},{"p":4,"x":13,"y":32,"t":42},{"p":4,"x":15,"y":32,"t":42},{"p":4,"x":17,"y":32,"t":42},{"p":4,"x":19,"y":32,"t":37},{"p":4,"x":21,"y":32,"t":37},{"p":4,"x":23,"y":32,"t":37},{"p":4,"x":25,"y":32,"t":47},{"p":4,"x":27,"y":32,"t":52},{"p":4,"x":29,"y":32,"t":57},{"p":4,"x":31,"y":32,"t":62},{"p":4,"x":33,"y":32,"t":72},{"p":4,"x":35,"y":32,"t":77},
{"p":4,"x":5,"y":34.6,"t":52},{"p":4,"x":7,"y":34.6,"t":52},{"p":4,"x":9,"y":34.6,"t":47},{"p":4,"x":11,"y":34.6,"t":47},{"p":4,"x":13,"y":34.6,"t":47},{"p":4,"x":15,"y":34.6,"t":47},{"p":4,"x":17,"y":34.6,"t":47},{"p":4,"x":19,"y":34.6,"t":42},{"p":4,"x":21,"y":34.6,"t":42},{"p":4,"x":23,"y":34.6,"t":42},{"p":4,"x":25,"y":34.6,"t":52},{"p":4,"x":27,"y":34.6,"t":57},{"p":4,"x":29,"y":34.6,"t":62},{"p":4,"x":31,"y":34.6,"t":67},{"p":4,"x":33,"y":34.6,"t":77},{"p":4,"x":35,"y":34.6,"t":82},
{"p":4,"x":5,"y":37.2,"t":62},{"p":4,"x":7,"y":37.2,"t":57},{"p":4,"x":9,"y":37.2,"t":57},{"p":4,"x":11,"y":37.2,"t":57},{"p":4,"x":13,"y":37.2,"t":52},{"p":4,"x":15,"y":37.2,"t":52},{"p":4,"x":17,"y":37.2,"t":52},{"p":4,"x":19,"y":37.2,"t":47},{"p":4,"x":21,"y":37.2,"t":47},{"p":4,"x":23,"y":37.2,"t":47},{"p":4,"x":25,"y":37.2,"t":57},{"p":4,"x":27,"y":37.2,"t":62},{"p":4,"x":29,"y":37.2,"t":67},{"p":4,"x":31,"y":37.2,"t":72},{"p":4,"x":33,"y":37.2,"t":77},{"p":4,"x":35,"y":37.2,"t":77},
{"p":4,"x":17,"y":39.7,"t":57},{"p":4,"x":19,"y":39.7,"t":57},{"p":4,"x":21,"y":39.7,"t":52},{"p":4,"x":23,"y":39.7,"t":57},
{"p":5,"x":9,"y":3.8,"t":77},{"p":5,"x":11,"y":3.8,"t":77},{"p":5,"x":13,"y":3.8,"t":82},{"p":5,"x":15,"y":3.8,"t":82},{"p":5,"x":17,"y":3.8,"t":82},{"p":5,"x":19,"y":3.8,"t":82},{"p":5,"x":21,"y":3.8,"t":82},
{"p":5,"x":7,"y":6.4,"t":72},{"p":5,"x":9,"y":6.4,"t":72},{"p":5,"x":11,"y":6.4,"t":77},{"p":5,"x":13,"y":6.4,"t":82},{"p":5,"x":15,"y":6.4,"t":82},{"p":5,"x":17,"y":6.4,"t":82},{"p":5,"x":19,"y":6.4,"t":82},{"p":5,"x":21,"y":6.4,"t":82},{"p":5,"x":23,"y":6.4,"t":82},
{"p":5,"x":5,"y":9,"t":72},{"p":5,"x":7,"y":9,"t":72},{"p":5,"x":9,"y":9,"t":72},{"p":5,"x":11,"y":9,"t":72},{"p":5,"x":13,"y":9,"t":77},{"p":5,"x":15,"y":9,"t":77},{"p":5,"x":17,"y":9,"t":82},{"p":5,"x":19,"y":9,"t":87},{"p":5,"x":21,"y":9,"t":87},{"p":5,"x":23,"y":9,"t":87},{"p":5,"x":25,"y":9,"t":87},
{"p":5,"x":3,"y":11.5,"t":67},{"p":5,"x":5,"y":11.5,"t":67},{"p":5,"x":7,"y":11.5,"t":67},{"p":5,"x":9,"y":11.5,"t":62},{"p":5,"x":11,"y":11.5,"t":67},{"p":5,"x":13,"y":11.5,"t":67},{"p":5,"x":15,"y":11.5,"t":72},{"p":5,"x":17,"y":11.5,"t":77},{"p":5,"x":19,"y":11.5,"t":82},{"p":5,"x":21,"y":11.5,"t":87},{"p":5,"x":23,"y":11.5,"t":87},{"p":5,"x":25,"y":11.5,"t":87},
{"p":5,"x":3,"y":14.1,"t":67},{"p":5,"x":5,"y":14.1,"t":62},{"p":5,"x":7,"y":14.1,"t":62},{"p":5,"x":9,"y":14.1,"t":62},{"p":5,"x":11,"y":14.1,"t":62},{"p":5,"x":13,"y":14.1,"t":62},{"p":5,"x":15,"y":14.1,"t":62},{"p":5,"x":17,"y":14.1,"t":67},{"p":5,"x":19,"y":14.1,"t":67},{"p":5,"x":21,"y":14.1,"t":67},{"p":5,"x":23,"y":14.1,"t":67},{"p":5,"x":25,"y":14.1,"t":77},{"p":5,"x":27,"y":14.1,"t":82},
{"p":5,"x":3,"y":16.6,"t":57},{"p":5,"x":5,"y":16.6,"t":57},{"p":5,"x":7,"y":16.6,"t":57},{"p":5,"x":9,"y":16.6,"t":57},{"p":5,"x":11,"y":16.6,"t":52},{"p":5,"x":13,"y":16.6,"t":52},{"p":5,"x":15,"y":16.6,"t":52},{"p":5,"x":17,"y":16.6,"t":57},{"p":5,"x":19,"y":16.6,"t":57},{"p":5,"x":21,"y":16.6,"t":62},{"p":5,"x":23,"y":16.6,"t":67},{"p":5,"x":25,"y":16.6,"t":72},{"p":5,"x":27,"y":16.6,"t":77},{"p":5,"x":29,"y":16.6,"t":77},
{"p":5,"x":3,"y":19.2,"t":57},{"p":5,"x":5,"y":19.2,"t":52},{"p":5,"x":7,"y":19.2,"t":52},{"p":5,"x":9,"y":19.2,"t":52},{"p":5,"x":11,"y":19.2,"t":47},{"p":5,"x":13,"y":19.2,"t":47},{"p":5,"x":15,"y":19.2,"t":47},{"p":5,"x":17,"y":19.2,"t":47},{"p":5,"x":19,"y":19.2,"t":47},{"p":5,"x":21,"y":19.2,"t":52},{"p":5,"x":23,"y":19.2,"t":52},{"p":5,"x":25,"y":19.2,"t":62},{"p":5,"x":27,"y":19.2,"t":67},{"p":5,"x":29,"y":19.2,"t":77},{"p":5,"x":31,"y":19.2,"t":77},
{"p":5,"x":3,"y":21.8,"t":52},{"p":5,"x":5,"y":21.8,"t":52},{"p":5,"x":7,"y":21.8,"t":47},{"p":5,"x":9,"y":21.8,"t":47},{"p":5,"x":11,"y":21.8,"t":42},{"p":5,"x":13,"y":21.8,"t":42},{"p":5,"x":15,"y":21.8,"t":42},{"p":5,"x":17,"y":21.8,"t":42},{"p":5,"x":19,"y":21.8,"t":42},{"p":5,"x":21,"y":21.8,"t":42},{"p":5,"x":23,"y":21.8,"t":42},{"p":5,"x":25,"y":21.8,"t":52},{"p":5,"x":27,"y":21.8,"t":57},{"p":5,"x":29,"y":21.8,"t":62},{"p":5,"x":31,"y":21.8,"t":72},{"p":5,"x":33,"y":21.8,"t":77},
{"p":5,"x":3,"y":24.3,"t":57},{"p":5,"x":5,"y":24.3,"t":47},{"p":5,"x":7,"y":24.3,"t":42},{"p":5,"x":9,"y":24.3,"t":42},{"p":5,"x":11,"y":24.3,"t":42},{"p":5,"x":13,"y":24.3,"t":37},{"p":5,"x":15,"y":24.3,"t":37},{"p":5,"x":17,"y":24.3,"t":37},{"p":5,"x":19,"y":24.3,"t":42},{"p":5,"x":21,"y":24.3,"t":42},{"p":5,"x":23,"y":24.3,"t":42},{"p":5,"x":25,"y":24.3,"t":47},{"p":5,"x":27,"y":24.3,"t":52},{"p":5,"x":29,"y":24.3,"t":57},{"p":5,"x":31,"y":24.3,"t":62},{"p":5,"x":33,"y":24.3,"t":62},
{"p":5,"x":5,"y":26.9,"t":42},{"p":5,"x":7,"y":26.9,"t":42},{"p":5,"x":9,"y":26.9,"t":37},{"p":5,"x":11,"y":26.9,"t":42},{"p":5,"x":13,"y":26.9,"t":37},{"p":5,"x":15,"y":26.9,"t":37},{"p":5,"x":17,"y":26.9,"t":37},{"p":5,"x":19,"y":26.9,"t":37},{"p":5,"x":21,"y":26.9,"t":42},{"p":5,"x":23,"y":26.9,"t":42},{"p":5,"x":25,"y":26.9,"t":47},{"p":5,"x":27,"y":26.9,"t":52},{"p":5,"x":29,"y":26.9,"t":52},{"p":5,"x":31,"y":26.9,"t":52},{"p":5,"x":33,"y":26.9,"t":62},{"p":5,"x":35,"y":26.9,"t":67},
{"p":5,"x":5,"y":29.5,"t":42},{"p":5,"x":7,"y":29.5,"t":42},{"p":5,"x":9,"y":29.5,"t":42},{"p":5,"x":11,"y":29.5,"t":52},{"p":5,"x":13,"y":29.5,"t":52},{"p":5,"x":15,"y":29.5,"t":47},{"p":5,"x":17,"y":29.5,"t":42},{"p":5,"x":19,"y":29.5,"t":42},{"p":5,"x":21,"y":29.5,"t":37},{"p":5,"x":23,"y":29.5,"t":42},{"p":5,"x":25,"y":29.5,"t":47},{"p":5,"x":27,"y":29.5,"t":47},{"p":5,"x":29,"y":29.5,"t":57},{"p":5,"x":31,"y":29.5,"t":62},{"p":5,"x":33,"y":29.5,"t":67},{"p":5,"x":35,"y":29.5,"t":72},
{"p":5,"x":5,"y":32,"t":47},{"p":5,"x":7,"y":32,"t":52},{"p":5,"x":9,"y":32,"t":57},{"p":5,"x":11,"y":32,"t":57},{"p":5,"x":13,"y":32,"t":62},{"p":5,"x":15,"y":32,"t":62},{"p":5,"x":17,"y":32,"t":57},{"p":5,"x":19,"y":32,"t":52},{"p":5,"x":21,"y":32,"t":42},{"p":5,"x":23,"y":32,"t":42},{"p":5,"x":25,"y":32,"t":47},{"p":5,"x":27,"y":32,"t":52},{"p":5,"x":29,"y":32,"t":57},{"p":5,"x":31,"y":32,"t":62},{"p":5,"x":33,"y":32,"t":67},{"p":5,"x":35,"y":32,"t":77},
{"p":5,"x":5,"y":34.6,"t":57},{"p":5,"x":7,"y":34.6,"t":57},{"p":5,"x":9,"y":34.6,"t":62},{"p":5,"x":11,"y":34.6,"t":67},{"p":5,"x":13,"y":34.6,"t":67},{"p":5,"x":15,"y":34.6,"t":67},{"p":5,"x":17,"y":34.6,"t":67},{"p":5,"x":19,"y":34.6,"t":57},{"p":5,"x":21,"y":34.6,"t":47},{"p":5,"x":23,"y":34.6,"t":47},{"p":5,"x":25,"y":34.6,"t":52},{"p":5,"x":27,"y":34.6,"t":57},{"p":5,"x":29,"y":34.6,"t":62},{"p":5,"x":31,"y":34.6,"t":67},{"p":5,"x":33,"y":34.6,"t":72},{"p":5,"x":35,"y":34.6,"t":72},
{"p":5,"x":5,"y":37.2,"t":67},{"p":5,"x":7,"y":37.2,"t":67},{"p":5,"x":9,"y":37.2,"t":67},{"p":5,"x":11,"y":37.2,"t":72},{"p":5,"x":13,"y":37.2,"t":72},{"p":5,"x":15,"y":37.2,"t":72},{"p":5,"x":17,"y":37.2,"t":72},{"p":5,"x":19,"y":37.2,"t":62},{"p":5,"x":21,"y":37.2,"t":52},{"p":5,"x":23,"y":37.2,"t":52},{"p":5,"x":25,"y":37.2,"t":57},{"p":5,"x":27,"y":37.2,"t":62},{"p":5,"x":29,"y":37.2,"t":67},{"p":5,"x":31,"y":37.2,"t":72},{"p":5,"x":33,"y":37.2,"t":77},{"p":5,"x":35,"y":37.2,"t":72},
{"p":5,"x":17,"y":39.7,"t":67},{"p":5,"x":19,"y":39.7,"t":67},{"p":5,"x":21,"y":39.7,"t":57},{"p":5,"x":23,"y":39.7,"t":57},
{"p":6,"x":9,"y":3.8,"t":72},{"p":6,"x":11,"y":3.8,"t":77},{"p":6,"x":13,"y":3.8,"t":77},{"p":6,"x":15,"y":3.8,"t":77},{"p":6,"x":17,"y":3.8,"t":77},{"p":6,"x":19,"y":3.8,"t":82},{"p":6,"x":21,"y":3.8,"t":82},
{"p":6,"x":7,"y":6.4,"t":72},{"p":6,"x":9,"y":6.4,"t":72},{"p":6,"x":11,"y":6.4,"t":72},{"p":6,"x":13,"y":6.4,"t":77},{"p":6,"x":15,"y":6.4,"t":77},{"p":6,"x":17,"y":6.4,"t":77},{"p":6,"x":19,"y":6.4,"t":82},{"p":6,"x":21,"y":6.4,"t":82},{"p":6,"x":23,"y":6.4,"t":82},
{"p":6,"x":5,"y":9,"t":67},{"p":6,"x":7,"y":9,"t":67},{"p":6,"x":9,"y":9,"t":67},{"p":6,"x":11,"y":9,"t":67},{"p":6,"x":13,"y":9,"t":72},{"p":6,"x":15,"y":9,"t":77},{"p":6,"x":17,"y":9,"t":77},{"p":6,"x":19,"y":9,"t":82},{"p":6,"x":21,"y":9,"t":82},{"p":6,"x":23,"y":9,"t":82},{"p":6,"x":25,"y":9,"t":82},
{"p":6,"x":3,"y":11.5,"t":67},{"p":6,"x":5,"y":11.5,"t":67},{"p":6,"x":7,"y":11.5,"t":67},{"p":6,"x":9,"y":11.5,"t":62},{"p":6,"x":11,"y":11.5,"t":62},{"p":6,"x":13,"y":11.5,"t":67},{"p":6,"x":15,"y":11.5,"t":72},{"p":6,"x":17,"y":11.5,"t":72},{"p":6,"x":19,"y":11.5,"t":77},{"p":6,"x":21,"y":11.5,"t":82},{"p":6,"x":23,"y":11.5,"t":82},{"p":6,"x":25,"y":11.5,"t":82},
{"p":6,"x":3,"y":14.1,"t":67},{"p":6,"x":5,"y":14.1,"t":67},{"p":6,"x":7,"y":14.1,"t":62},{"p":6,"x":9,"y":14.1,"t":62},{"p":6,"x":11,"y":14.1,"t":62},{"p":6,"x":13,"y":14.1,"t":62},{"p":6,"x":15,"y":14.1,"t":62},{"p":6,"x":17,"y":14.1,"t":67},{"p":6,"x":19,"y":14.1,"t":67},{"p":6,"x":21,"y":14.1,"t":67},{"p":6,"x":23,"y":14.1,"t":72},{"p":6,"x":25,"y":14.1,"t":72},{"p":6,"x":27,"y":14.1,"t":77},
{"p":6,"x":3,"y":16.6,"t":62},{"p":6,"x":5,"y":16.6,"t":62},{"p":6,"x":7,"y":16.6,"t":62},{"p":6,"x":9,"y":16.6,"t":57},{"p":6,"x":11,"y":16.6,"t":57},{"p":6,"x":13,"y":16.6,"t":57},{"p":6,"x":15,"y":16.6,"t":57},{"p":6,"x":17,"y":16.6,"t":57},{"p":6,"x":19,"y":16.6,"t":57},{"p":6,"x":21,"y":16.6,"t":62},{"p":6,"x":23,"y":16.6,"t":67},{"p":6,"x":25,"y":16.6,"t":72},{"p":6,"x":27,"y":16.6,"t":77},{"p":6,"x":29,"y":16.6,"t":82},
{"p":6,"x":3,"y":19.2,"t":62},{"p":6,"x":5,"y":19.2,"t":57},{"p":6,"x":7,"y":19.2,"t":57},{"p":6,"x":9,"y":19.2,"t":52},{"p":6,"x":11,"y":19.2,"t":52},{"p":6,"x":13,"y":19.2,"t":52},{"p":6,"x":15,"y":19.2,"t":52},{"p":6,"x":17,"y":19.2,"t":52},{"p":6,"x":19,"y":19.2,"t":52},{"p":6,"x":21,"y":19.2,"t":52},{"p":6,"x":23,"y":19.2,"t":57},{"p":6,"x":25,"y":19.2,"t":62},{"p":6,"x":27,"y":19.2,"t":67},{"p":6,"x":29,"y":19.2,"t":72},{"p":6,"x":31,"y":19.2,"t":77},
{"p":6,"x":3,"y":21.8,"t":62},{"p":6,"x":5,"y":21.8,"t":57},{"p":6,"x":7,"y":21.8,"t":52},{"p":6,"x":9,"y":21.8,"t":47},{"p":6,"x":11,"y":21.8,"t":47},{"p":6,"x":13,"y":21.8,"t":47},{"p":6,"x":15,"y":21.8,"t":47},{"p":6,"x":17,"y":21.8,"t":47},{"p":6,"x":19,"y":21.8,"t":47},{"p":6,"x":21,"y":21.8,"t":47},{"p":6,"x":23,"y":21.8,"t":47},{"p":6,"x":25,"y":21.8,"t":52},{"p":6,"x":27,"y":21.8,"t":57},{"p":6,"x":29,"y":21.8,"t":62},{"p":6,"x":31,"y":21.8,"t":72},{"p":6,"x":33,"y":21.8,"t":72},
{"p":6,"x":3,"y":24.3,"t":62},{"p":6,"x":5,"y":24.3,"t":57},{"p":6,"x":7,"y":24.3,"t":52},{"p":6,"x":9,"y":24.3,"t":47},{"p":6,"x":11,"y":24.3,"t":42},{"p":6,"x":13,"y":24.3,"t":42},{"p":6,"x":15,"y":24.3,"t":42},{"p":6,"x":17,"y":24.3,"t":42},{"p":6,"x":19,"y":24.3,"t":47},{"p":6,"x":21,"y":24.3,"t":47},{"p":6,"x":23,"y":24.3,"t":47},{"p":6,"x":25,"y":24.3,"t":52},{"p":6,"x":27,"y":24.3,"t":62},{"p":6,"x":29,"y":24.3,"t":62},{"p":6,"x":31,"y":24.3,"t":62},{"p":6,"x":33,"y":24.3,"t":67},
{"p":6,"x":5,"y":26.9,"t":57},{"p":6,"x":7,"y":26.9,"t":52},{"p":6,"x":9,"y":26.9,"t":42},{"p":6,"x":11,"y":26.9,"t":42},{"p":6,"x":13,"y":26.9,"t":42},{"p":6,"x":15,"y":26.9,"t":42},{"p":6,"x":17,"y":26.9,"t":42},{"p":6,"x":19,"y":26.9,"t":42},{"p":6,"x":21,"y":26.9,"t":47},{"p":6,"x":23,"y":26.9,"t":47},{"p":6,"x":25,"y":26.9,"t":52},{"p":6,"x":27,"y":26.9,"t":52},{"p":6,"x":29,"y":26.9,"t":57},{"p":6,"x":31,"y":26.9,"t":62},{"p":6,"x":33,"y":26.9,"t":67},{"p":6,"x":35,"y":26.9,"t":67},
{"p":6,"x":5,"y":29.5,"t":57},{"p":6,"x":7,"y":29.5,"t":57},{"p":6,"x":9,"y":29.5,"t":62},{"p":6,"x":11,"y":29.5,"t":62},{"p":6,"x":13,"y":29.5,"t":62},{"p":6,"x":15,"y":29.5,"t":57},{"p":6,"x":17,"y":29.5,"t":52},{"p":6,"x":19,"y":29.5,"t":52},{"p":6,"x":21,"y":29.5,"t":47},{"p":6,"x":23,"y":29.5,"t":47},{"p":6,"x":25,"y":29.5,"t":52},{"p":6,"x":27,"y":29.5,"t":52},{"p":6,"x":29,"y":29.5,"t":57},{"p":6,"x":31,"y":29.5,"t":62},{"p":6,"x":33,"y":29.5,"t":67},{"p":6,"x":35,"y":29.5,"t":72},
{"p":6,"x":5,"y":32,"t":62},{"p":6,"x":7,"y":32,"t":62},{"p":6,"x":9,"y":32,"t":67},{"p":6,"x":11,"y":32,"t":72},{"p":6,"x":13,"y":32,"t":72},{"p":6,"x":15,"y":32,"t":72},{"p":6,"x":17,"y":32,"t":67},{"p":6,"x":19,"y":32,"t":57},{"p":6,"x":21,"y":32,"t":52},{"p":6,"x":23,"y":32,"t":47},{"p":6,"x":25,"y":32,"t":52},{"p":6,"x":27,"y":32,"t":57},{"p":6,"x":29,"y":32,"t":62},{"p":6,"x":31,"y":32,"t":62},{"p":6,"x":33,"y":32,"t":72},{"p":6,"x":35,"y":32,"t":72},
{"p":6,"x":5,"y":34.6,"t":62},{"p":6,"x":7,"y":34.6,"t":67},{"p":6,"x":9,"y":34.6,"t":67},{"p":6,"x":11,"y":34.6,"t":72},{"p":6,"x":13,"y":34.6,"t":72},{"p":6,"x":15,"y":34.6,"t":82},{"p":6,"x":17,"y":34.6,"t":77},{"p":6,"x":19,"y":34.6,"t":62},{"p":6,"x":21,"y":34.6,"t":52},{"p":6,"x":23,"y":34.6,"t":52},{"p":6,"x":25,"y":34.6,"t":57},{"p":6,"x":27,"y":34.6,"t":62},{"p":6,"x":29,"y":34.6,"t":62},{"p":6,"x":31,"y":34.6,"t":67},{"p":6,"x":33,"y":34.6,"t":72},{"p":6,"x":35,"y":34.6,"t":72},
{"p":6,"x":5,"y":37.2,"t":72},{"p":6,"x":7,"y":37.2,"t":72},{"p":6,"x":9,"y":37.2,"t":72},{"p":6,"x":11,"y":37.2,"t":77},{"p":6,"x":13,"y":37.2,"t":77},{"p":6,"x":15,"y":37.2,"t":77},{"p":6,"x":17,"y":37.2,"t":77},{"p":6,"x":19,"y":37.2,"t":72},{"p":6,"x":21,"y":37.2,"t":62},{"p":6,"x":23,"y":37.2,"t":57},{"p":6,"x":25,"y":37.2,"t":62},{"p":6,"x":27,"y":37.2,"t":62},{"p":6,"x":29,"y":37.2,"t":67},{"p":6,"x":31,"y":37.2,"t":72},{"p":6,"x":33,"y":37.2,"t":77},{"p":6,"x":35,"y":37.2,"t":77},
{"p":6,"x":17,"y":39.7,"t":72},{"p":6,"x":19,"y":39.7,"t":72},{"p":6,"x":21,"y":39.7,"t":57},{"p":6,"x":23,"y":39.7,"t":57},
{"p":7,"x":9,"y":3.8,"t":67},{"p":7,"x":11,"y":3.8,"t":67},{"p":7,"x":13,"y":3.8,"t":67},{"p":7,"x":15,"y":3.8,"t":67},{"p":7,"x":17,"y":3.8,"t":72},{"p":7,"x":19,"y":3.8,"t":72},{"p":7,"x":21,"y":3.8,"t":72},
{"p":7,"x":7,"y":6.4,"t":62},{"p":7,"x":9,"y":6.4,"t":62},{"p":7,"x":11,"y":6.4,"t":67},{"p":7,"x":13,"y":6.4,"t":67},{"p":7,"x":15,"y":6.4,"t":67},{"p":7,"x":17,"y":6.4,"t":67},{"p":7,"x":19,"y":6.4,"t":72},{"p":7,"x":21,"y":6.4,"t":72},{"p":7,"x":23,"y":6.4,"t":72},
{"p":7,"x":5,"y":9,"t":62},{"p":7,"x":7,"y":9,"t":62},{"p":7,"x":9,"y":9,"t":62},{"p":7,"x":11,"y":9,"t":62},{"p":7,"x":13,"y":9,"t":67},{"p":7,"x":15,"y":9,"t":67},{"p":7,"x":17,"y":9,"t":67},{"p":7,"x":19,"y":9,"t":72},{"p":7,"x":21,"y":9,"t":72},{"p":7,"x":23,"y":9,"t":72},{"p":7,"x":25,"y":9,"t":77},
{"p":7,"x":3,"y":11.5,"t":62},{"p":7,"x":5,"y":11.5,"t":62},{"p":7,"x":7,"y":11.5,"t":62},{"p":7,"x":9,"y":11.5,"t":62},{"p":7,"x":11,"y":11.5,"t":62},{"p":7,"x":13,"y":11.5,"t":62},{"p":7,"x":15,"y":11.5,"t":67},{"p":7,"x":17,"y":11.5,"t":67},{"p":7,"x":19,"y":11.5,"t":72},{"p":7,"x":21,"y":11.5,"t":72},{"p":7,"x":23,"y":11.5,"t":72},{"p":7,"x":25,"y":11.5,"t":77},
{"p":7,"x":3,"y":14.1,"t":62},{"p":7,"x":5,"y":14.1,"t":62},{"p":7,"x":7,"y":14.1,"t":62},{"p":7,"x":9,"y":14.1,"t":62},{"p":7,"x":11,"y":14.1,"t":62},{"p":7,"x":13,"y":14.1,"t":62},{"p":7,"x":15,"y":14.1,"t":62},{"p":7,"x":17,"y":14.1,"t":62},{"p":7,"x":19,"y":14.1,"t":62},{"p":7,"x":21,"y":14.1,"t":62},{"p":7,"x":23,"y":14.1,"t":67},{"p":7,"x":25,"y":14.1,"t":72},{"p":7,"x":27,"y":14.1,"t":77},
{"p":7,"x":3,"y":16.6,"t":57},{"p":7,"x":5,"y":16.6,"t":57},{"p":7,"x":7,"y":16.6,"t":57},{"p":7,"x":9,"y":16.6,"t":57},{"p":7,"x":11,"y":16.6,"t":57},{"p":7,"x":13,"y":16.6,"t":57},{"p":7,"x":15,"y":16.6,"t":57},{"p":7,"x":17,"y":16.6,"t":57},{"p":7,"x":19,"y":16.6,"t":62},{"p":7,"x":21,"y":16.6,"t":62},{"p":7,"x":23,"y":16.6,"t":62},{"p":7,"x":25,"y":16.6,"t":67},{"p":7,"x":27,"y":16.6,"t":72},{"p":7,"x":29,"y":16.6,"t":77},
{"p":7,"x":3,"y":19.2,"t":62},{"p":7,"x":5,"y":19.2,"t":57},{"p":7,"x":7,"y":19.2,"t":57},{"p":7,"x":9,"y":19.2,"t":52},{"p":7,"x":11,"y":19.2,"t":52},{"p":7,"x":13,"y":19.2,"t":57},{"p":7,"x":15,"y":19.2,"t":57},{"p":7,"x":17,"y":19.2,"t":57},{"p":7,"x":19,"y":19.2,"t":57},{"p":7,"x":21,"y":19.2,"t":57},{"p":7,"x":23,"y":19.2,"t":57},{"p":7,"x":25,"y":19.2,"t":62},{"p":7,"x":27,"y":19.2,"t":67},{"p":7,"x":29,"y":19.2,"t":72},{"p":7,"x":31,"y":19.2,"t":77},
{"p":7,"x":3,"y":21.8,"t":62},{"p":7,"x":5,"y":21.8,"t":57},{"p":7,"x":7,"y":21.8,"t":52},{"p":7,"x":9,"y":21.8,"t":52},{"p":7,"x":11,"y":21.8,"t":52},{"p":7,"x":13,"y":21.8,"t":52},{"p":7,"x":15,"y":21.8,"t":52},{"p":7,"x":17,"y":21.8,"t":52},{"p":7,"x":19,"y":21.8,"t":52},{"p":7,"x":21,"y":21.8,"t":52},{"p":7,"x":23,"y":21.8,"t":52},{"p":7,"x":25,"y":21.8,"t":57},{"p":7,"x":27,"y":21.8,"t":62},{"p":7,"x":29,"y":21.8,"t":67},{"p":7,"x":31,"y":21.8,"t":72},{"p":7,"x":33,"y":21.8,"t":77},
{"p":7,"x":3,"y":24.3,"t":62},{"p":7,"x":5,"y":24.3,"t":62},{"p":7,"x":7,"y":24.3,"t":57},{"p":7,"x":9,"y":24.3,"t":52},{"p":7,"x":11,"y":24.3,"t":47},{"p":7,"x":13,"y":24.3,"t":47},{"p":7,"x":15,"y":24.3,"t":47},{"p":7,"x":17,"y":24.3,"t":52},{"p":7,"x":19,"y":24.3,"t":52},{"p":7,"x":21,"y":24.3,"t":52},{"p":7,"x":23,"y":24.3,"t":52},{"p":7,"x":25,"y":24.3,"t":57},{"p":7,"x":27,"y":24.3,"t":62},{"p":7,"x":29,"y":24.3,"t":67},{"p":7,"x":31,"y":24.3,"t":67},{"p":7,"x":33,"y":24.3,"t":72},
{"p":7,"x":5,"y":26.9,"t":67},{"p":7,"x":7,"y":26.9,"t":57},{"p":7,"x":9,"y":26.9,"t":52},{"p":7,"x":11,"y":26.9,"t":52},{"p":7,"x":13,"y":26.9,"t":52},{"p":7,"x":15,"y":26.9,"t":47},{"p":7,"x":17,"y":26.9,"t":47},{"p":7,"x":19,"y":26.9,"t":52},{"p":7,"x":21,"y":26.9,"t":52},{"p":7,"x":23,"y":26.9,"t":52},{"p":7,"x":25,"y":26.9,"t":57},{"p":7,"x":27,"y":26.9,"t":62},{"p":7,"x":29,"y":26.9,"t":67},{"p":7,"x":31,"y":26.9,"t":67},{"p":7,"x":33,"y":26.9,"t":72},{"p":7,"x":35,"y":26.9,"t":77},
{"p":7,"x":5,"y":29.5,"t":67},{"p":7,"x":7,"y":29.5,"t":62},{"p":7,"x":9,"y":29.5,"t":62},{"p":7,"x":11,"y":29.5,"t":57},{"p":7,"x":13,"y":29.5,"t":57},{"p":7,"x":15,"y":29.5,"t":52},{"p":7,"x":17,"y":29.5,"t":52},{"p":7,"x":19,"y":29.5,"t":52},{"p":7,"x":21,"y":29.5,"t":52},{"p":7,"x":23,"y":29.5,"t":52},{"p":7,"x":25,"y":29.5,"t":57},{"p":7,"x":27,"y":29.5,"t":57},{"p":7,"x":29,"y":29.5,"t":62},{"p":7,"x":31,"y":29.5,"t":67},{"p":7,"x":33,"y":29.5,"t":72},{"p":7,"x":35,"y":29.5,"t":72},
{"p":7,"x":5,"y":32,"t":67},{"p":7,"x":7,"y":32,"t":67},{"p":7,"x":9,"y":32,"t":67},{"p":7,"x":11,"y":32,"t":67},{"p":7,"x":13,"y":32,"t":62},{"p":7,"x":15,"y":32,"t":62},{"p":7,"x":17,"y":32,"t":57},{"p":7,"x":19,"y":32,"t":57},{"p":7,"x":21,"y":32,"t":52},{"p":7,"x":23,"y":32,"t":52},{"p":7,"x":25,"y":32,"t":57},{"p":7,"x":27,"y":32,"t":57},{"p":7,"x":29,"y":32,"t":62},{"p":7,"x":31,"y":32,"t":67},{"p":7,"x":33,"y":32,"t":67},{"p":7,"x":35,"y":32,"t":72},
{"p":7,"x":5,"y":34.6,"t":67},{"p":7,"x":7,"y":34.6,"t":67},{"p":7,"x":9,"y":34.6,"t":67},{"p":7,"x":11,"y":34.6,"t":67},{"p":7,"x":13,"y":34.6,"t":67},{"p":7,"x":15,"y":34.6,"t":67},{"p":7,"x":17,"y":34.6,"t":62},{"p":7,"x":19,"y":34.6,"t":57},{"p":7,"x":21,"y":34.6,"t":52},{"p":7,"x":23,"y":34.6,"t":52},{"p":7,"x":25,"y":34.6,"t":57},{"p":7,"x":27,"y":34.6,"t":62},{"p":7,"x":29,"y":34.6,"t":62},{"p":7,"x":31,"y":34.6,"t":67},{"p":7,"x":33,"y":34.6,"t":67},{"p":7,"x":35,"y":34.6,"t":72},
{"p":7,"x":5,"y":37.2,"t":67},{"p":7,"x":7,"y":37.2,"t":67},{"p":7,"x":9,"y":37.2,"t":67},{"p":7,"x":11,"y":37.2,"t":67},{"p":7,"x":13,"y":37.2,"t":67},{"p":7,"x":15,"y":37.2,"t":67},{"p":7,"x":17,"y":37.2,"t":67},{"p":7,"x":19,"y":37.2,"t":62},{"p":7,"x":21,"y":37.2,"t":57},{"p":7,"x":23,"y":37.2,"t":57},{"p":7,"x":25,"y":37.2,"t":57},{"p":7,"x":27,"y":37.2,"t":62},{"p":7,"x":29,"y":37.2,"t":67},{"p":7,"x":31,"y":37.2,"t":67},{"p":7,"x":33,"y":37.2,"t":67},{"p":7,"x":35,"y":37.2,"t":72},
{"p":7,"x":17,"y":39.7,"t":57},{"p":7,"x":19,"y":39.7,"t":57},{"p":7,"x":21,"y":39.7,"t":57},{"p":7,"x":23,"y":39.7,"t":57},
{"p":8,"x":9,"y":3.8,"t":62},{"p":8,"x":11,"y":3.8,"t":62},{"p":8,"x":13,"y":3.8,"t":62},{"p":8,"x":15,"y":3.8,"t":62},{"p":8,"x":17,"y":3.8,"t":67},{"p":8,"x":19,"y":3.8,"t":67},{"p":8,"x":21,"y":3.8,"t":67},
{"p":8,"x":7,"y":6.4,"t":57},{"p":8,"x":9,"y":6.4,"t":62},{"p":8,"x":11,"y":6.4,"t":62},{"p":8,"x":13,"y":6.4,"t":62},{"p":8,"x":15,"y":6.4,"t":62},{"p":8,"x":17,"y":6.4,"t":62},{"p":8,"x":19,"y":6.4,"t":67},{"p":8,"x":21,"y":6.4,"t":67},{"p":8,"x":23,"y":6.4,"t":67},
{"p":8,"x":5,"y":9,"t":57},{"p":8,"x":7,"y":9,"t":57},{"p":8,"x":9,"y":9,"t":57},{"p":8,"x":11,"y":9,"t":62},{"p":8,"x":13,"y":9,"t":62},{"p":8,"x":15,"y":9,"t":62},{"p":8,"x":17,"y":9,"t":62},{"p":8,"x":19,"y":9,"t":67},{"p":8,"x":21,"y":9,"t":67},{"p":8,"x":23,"y":9,"t":67},{"p":8,"x":25,"y":9,"t":72},
{"p":8,"x":3,"y":11.5,"t":57},{"p":8,"x":5,"y":11.5,"t":57},{"p":8,"x":7,"y":11.5,"t":57},{"p":8,"x":9,"y":11.5,"t":57},{"p":8,"x":11,"y":11.5,"t":57},{"p":8,"x":13,"y":11.5,"t":62},{"p":8,"x":15,"y":11.5,"t":62},{"p":8,"x":17,"y":11.5,"t":62},{"p":8,"x":19,"y":11.5,"t":67},{"p":8,"x":21,"y":11.5,"t":67},{"p":8,"x":23,"y":11.5,"t":67},{"p":8,"x":25,"y":11.5,"t":67},
{"p":8,"x":3,"y":14.1,"t":57},{"p":8,"x":5,"y":14.1,"t":57},{"p":8,"x":7,"y":14.1,"t":57},{"p":8,"x":9,"y":14.1,"t":57},{"p":8,"x":11,"y":14.1,"t":57},{"p":8,"x":13,"y":14.1,"t":57},{"p":8,"x":15,"y":14.1,"t":62},{"p":8,"x":17,"y":14.1,"t":62},{"p":8,"x":19,"y":14.1,"t":62},{"p":8,"x":21,"y":14.1,"t":62},{"p":8,"x":23,"y":14.1,"t":67},{"p":8,"x":25,"y":14.1,"t":67},{"p":8,"x":27,"y":14.1,"t":72},
{"p":8,"x":3,"y":16.6,"t":57},{"p":8,"x":5,"y":16.6,"t":57},{"p":8,"x":7,"y":16.6,"t":57},{"p":8,"x":9,"y":16.6,"t":57},{"p":8,"x":11,"y":16.6,"t":57},{"p":8,"x":13,"y":16.6,"t":57},{"p":8,"x":15,"y":16.6,"t":57},{"p":8,"x":17,"y":16.6,"t":57},{"p":8,"x":19,"y":16.6,"t":57},{"p":8,"x":21,"y":16.6,"t":62},{"p":8,"x":23,"y":16.6,"t":62},{"p":8,"x":25,"y":16.6,"t":72},{"p":8,"x":27,"y":16.6,"t":72},{"p":8,"x":29,"y":16.6,"t":72},
{"p":8,"x":3,"y":19.2,"t":57},{"p":8,"x":5,"y":19.2,"t":57},{"p":8,"x":7,"y":19.2,"t":57},{"p":8,"x":9,"y":19.2,"t":57},{"p":8,"x":11,"y":19.2,"t":57},{"p":8,"x":13,"y":19.2,"t":57},{"p":8,"x":15,"y":19.2,"t":57},{"p":8,"x":17,"y":19.2,"t":57},{"p":8,"x":19,"y":19.2,"t":57},{"p":8,"x":21,"y":19.2,"t":57},{"p":8,"x":23,"y":19.2,"t":57},{"p":8,"x":25,"y":19.2,"t":62},{"p":8,"x":27,"y":19.2,"t":67},{"p":8,"x":29,"y":19.2,"t":72},{"p":8,"x":31,"y":19.2,"t":72},
{"p":8,"x":3,"y":21.8,"t":57},{"p":8,"x":5,"y":21.8,"t":57},{"p":8,"x":7,"y":21.8,"t":57},{"p":8,"x":9,"y":21.8,"t":57},{"p":8,"x":11,"y":21.8,"t":57},{"p":8,"x":13,"y":21.8,"t":57},{"p":8,"x":15,"y":21.8,"t":57},{"p":8,"x":17,"y":21.8,"t":57},{"p":8,"x":19,"y":21.8,"t":57},{"p":8,"x":21,"y":21.8,"t":57},{"p":8,"x":23,"y":21.8,"t":57},{"p":8,"x":25,"y":21.8,"t":62},{"p":8,"x":27,"y":21.8,"t":62},{"p":8,"x":29,"y":21.8,"t":67},{"p":8,"x":31,"y":21.8,"t":72},{"p":8,"x":33,"y":21.8,"t":72},
{"p":8,"x":3,"y":24.3,"t":57},{"p":8,"x":5,"y":24.3,"t":57},{"p":8,"x":7,"y":24.3,"t":57},{"p":8,"x":9,"y":24.3,"t":57},{"p":8,"x":11,"y":24.3,"t":52},{"p":8,"x":13,"y":24.3,"t":52},{"p":8,"x":15,"y":24.3,"t":52},{"p":8,"x":17,"y":24.3,"t":57},{"p":8,"x":19,"y":24.3,"t":57},{"p":8,"x":21,"y":24.3,"t":57},{"p":8,"x":23,"y":24.3,"t":57},{"p":8,"x":25,"y":24.3,"t":57},{"p":8,"x":27,"y":24.3,"t":62},{"p":8,"x":29,"y":24.3,"t":67},{"p":8,"x":31,"y":24.3,"t":67},{"p":8,"x":33,"y":24.3,"t":72},
{"p":8,"x":5,"y":26.9,"t":62},{"p":8,"x":7,"y":26.9,"t":57},{"p":8,"x":9,"y":26.9,"t":57},{"p":8,"x":11,"y":26.9,"t":57},{"p":8,"x":13,"y":26.9,"t":52},{"p":8,"x":15,"y":26.9,"t":52},{"p":8,"x":17,"y":26.9,"t":52},{"p":8,"x":19,"y":26.9,"t":52},{"p":8,"x":21,"y":26.9,"t":52},{"p":8,"x":23,"y":26.9,"t":57},{"p":8,"x":25,"y":26.9,"t":57},{"p":8,"x":27,"y":26.9,"t":62},{"p":8,"x":29,"y":26.9,"t":62},{"p":8,"x":31,"y":26.9,"t":67},{"p":8,"x":33,"y":26.9,"t":72},{"p":8,"x":35,"y":26.9,"t":72},
{"p":8,"x":5,"y":29.5,"t":62},{"p":8,"x":7,"y":29.5,"t":62},{"p":8,"x":9,"y":29.5,"t":57},{"p":8,"x":11,"y":29.5,"t":57},{"p":8,"x":13,"y":29.5,"t":57},{"p":8,"x":15,"y":29.5,"t":57},{"p":8,"x":17,"y":29.5,"t":52},{"p":8,"x":19,"y":29.5,"t":52},{"p":8,"x":21,"y":29.5,"t":52},{"p":8,"x":23,"y":29.5,"t":52},{"p":8,"x":25,"y":29.5,"t":57},{"p":8,"x":27,"y":29.5,"t":62},{"p":8,"x":29,"y":29.5,"t":62},{"p":8,"x":31,"y":29.5,"t":67},{"p":8,"x":33,"y":29.5,"t":67},{"p":8,"x":35,"y":29.5,"t":72},
{"p":8,"x":5,"y":32,"t":62},{"p":8,"x":7,"y":32,"t":62},{"p":8,"x":9,"y":32,"t":62},{"p":8,"x":11,"y":32,"t":62},{"p":8,"x":13,"y":32,"t":57},{"p":8,"x":15,"y":32,"t":57},{"p":8,"x":17,"y":32,"t":57},{"p":8,"x":19,"y":32,"t":57},{"p":8,"x":21,"y":32,"t":52},{"p":8,"x":23,"y":32,"t":52},{"p":8,"x":25,"y":32,"t":57},{"p":8,"x":27,"y":32,"t":57},{"p":8,"x":29,"y":32,"t":62},{"p":8,"x":31,"y":32,"t":62},{"p":8,"x":33,"y":32,"t":62},{"p":8,"x":35,"y":32,"t":67},
{"p":8,"x":5,"y":34.6,"t":57},{"p":8,"x":7,"y":34.6,"t":57},{"p":8,"x":9,"y":34.6,"t":62},{"p":8,"x":11,"y":34.6,"t":62},{"p":8,"x":13,"y":34.6,"t":62},{"p":8,"x":15,"y":34.6,"t":62},{"p":8,"x":17,"y":34.6,"t":57},{"p":8,"x":19,"y":34.6,"t":57},{"p":8,"x":21,"y":34.6,"t":57},{"p":8,"x":23,"y":34.6,"t":57},{"p":8,"x":25,"y":34.6,"t":57},{"p":8,"x":27,"y":34.6,"t":57},{"p":8,"x":29,"y":34.6,"t":62},{"p":8,"x":31,"y":34.6,"t":62},{"p":8,"x":33,"y":34.6,"t":62},{"p":8,"x":35,"y":34.6,"t":67},
{"p":8,"x":5,"y":37.2,"t":57},{"p":8,"x":7,"y":37.2,"t":57},{"p":8,"x":9,"y":37.2,"t":57},{"p":8,"x":11,"y":37.2,"t":57},{"p":8,"x":13,"y":37.2,"t":57},{"p":8,"x":15,"y":37.2,"t":57},{"p":8,"x":17,"y":37.2,"t":57},{"p":8,"x":19,"y":37.2,"t":57},{"p":8,"x":21,"y":37.2,"t":57},{"p":8,"x":23,"y":37.2,"t":57},{"p":8,"x":25,"y":37.2,"t":57},{"p":8,"x":27,"y":37.2,"t":57},{"p":8,"x":29,"y":37.2,"t":62},{"p":8,"x":31,"y":37.2,"t":62},{"p":8,"x":33,"y":37.2,"t":62},{"p":8,"x":35,"y":37.2,"t":67},
{"p":8,"x":17,"y":39.7,"t":57},{"p":8,"x":19,"y":39.7,"t":57},{"p":8,"x":21,"y":39.7,"t":57},{"p":8,"x":23,"y":39.7,"t":57},
{"p":1,"label":"TMP-01","x":6.7,"y":36.2,"lx":6.2,"ly":38},{"p":1,"label":"TMP-02","x":20.4,"y":38.2,"lx":20.5,"ly":39.8},{"p":1,"label":"TMP-03","x":34.8,"y":35.8,"lx":33.7,"ly":37.8},{"p":1,"label":"TMP-04","x":14.8,"y":31.6,"lx":14.7,"ly":33.6},{"p":1,"label":"TMP-05","x":31.7,"y":31.2,"lx":30.6,"ly":32.7},{"p":1,"label":"TMP-06","x":20.5,"y":28.1,"lx":20.8,"ly":29.8},{"p":1,"label":"TMP-07","x":5.9,"y":27.1,"lx":5.4,"ly":28.9},{"p":1,"label":"TMP-08","x":11.7,"y":23.5,"lx":11.8,"ly":25.4},{"p":1,"label":"TMP-09","x":33.5,"y":24.4,"lx":32.3,"ly":26.1},{"p":1,"label":"TMP-10","x":21.1,"y":20.3,"lx":20.3,"ly":22.2},{"p":1,"label":"TMP-11","x":3.2,"y":14.8,"lx":2.4,"ly":16.8},{"p":1,"label":"TMP-12","x":11.4,"y":13.3,"lx":10.6,"ly":14.6},{"p":1,"label":"TMP-13","x":19.6,"y":11.7,"lx":20.8,"ly":13.7},{"p":1,"label":"TMP-14","x":8.2,"y":5.7,"lx":7.6,"ly":7.8},{"p":1,"label":"TMP-15","x":20.5,"y":3.7,"lx":19.4,"ly":5.5},
{"p":2,"label":"TMP-01","x":6,"y":36.3,"lx":5.6,"ly":38.2},{"p":2,"label":"TMP-02","x":19.7,"y":38.3,"lx":19.8,"ly":39.9},{"p":2,"label":"TMP-03","x":34.1,"y":35.9,"lx":33.1,"ly":37.9},{"p":2,"label":"TMP-04","x":14.1,"y":31.7,"lx":14,"ly":33.8},{"p":2,"label":"TMP-05","x":31,"y":31.4,"lx":30,"ly":32.8},{"p":2,"label":"TMP-06","x":19.9,"y":28.2,"lx":20.1,"ly":30},{"p":2,"label":"TMP-07","x":5.2,"y":27.2,"lx":4.7,"ly":29},{"p":2,"label":"TMP-08","x":11,"y":23.6,"lx":11.2,"ly":25.6},{"p":2,"label":"TMP-09","x":32.8,"y":24.5,"lx":31.7,"ly":26.3},{"p":2,"label":"TMP-10","x":20.4,"y":20.5,"lx":19.6,"ly":22.3},{"p":2,"label":"TMP-11","x":2.5,"y":15,"lx":1.7,"ly":17},{"p":2,"label":"TMP-12","x":10.7,"y":13.4,"lx":9.9,"ly":14.7},{"p":2,"label":"TMP-13","x":19,"y":11.8,"lx":20.1,"ly":13.9},{"p":2,"label":"TMP-14","x":7.5,"y":5.8,"lx":6.9,"ly":8},{"p":2,"label":"TMP-15","x":19.9,"y":3.8,"lx":18.7,"ly":5.7},
{"p":3,"label":"TMP-01","x":6.2,"y":36.3,"lx":5.8,"ly":38.2},{"p":3,"label":"TMP-02","x":20,"y":38.3,"lx":20,"ly":39.9},{"p":3,"label":"TMP-03","x":34.3,"y":35.9,"lx":33.3,"ly":37.9},{"p":3,"label":"TMP-04","x":14.3,"y":31.7,"lx":14.3,"ly":33.8},{"p":3,"label":"TMP-05","x":31.2,"y":31.4,"lx":30.2,"ly":32.8},{"p":3,"label":"TMP-06","x":20.1,"y":28.2,"lx":20.3,"ly":30},{"p":3,"label":"TMP-07","x":5.5,"y":27.2,"lx":4.9,"ly":29},{"p":3,"label":"TMP-08","x":11.2,"y":23.6,"lx":11.4,"ly":25.6},{"p":3,"label":"TMP-09","x":33.1,"y":24.5,"lx":31.9,"ly":26.3},{"p":3,"label":"TMP-10","x":20.6,"y":20.5,"lx":19.9,"ly":22.3},{"p":3,"label":"TMP-11","x":2.8,"y":15,"lx":2,"ly":17},{"p":3,"label":"TMP-12","x":10.9,"y":13.4,"lx":10.2,"ly":14.7},{"p":3,"label":"TMP-13","x":19.2,"y":11.8,"lx":20.3,"ly":13.9},{"p":3,"label":"TMP-14","x":7.7,"y":5.8,"lx":7.1,"ly":8},{"p":3,"label":"TMP-15","x":20.1,"y":3.8,"lx":18.9,"ly":5.7},
{"p":4,"label":"TMP-01","x":6.6,"y":36.3,"lx":6.2,"ly":38.2},{"p":4,"label":"TMP-02","x":20.4,"y":38.3,"lx":20.4,"ly":39.9},{"p":4,"label":"TMP-03","x":34.7,"y":35.9,"lx":33.7,"ly":37.9},{"p":4,"label":"TMP-04","x":14.7,"y":31.7,"lx":14.7,"ly":33.8},{"p":4,"label":"TMP-05","x":31.6,"y":31.4,"lx":30.6,"ly":32.8},{"p":4,"label":"TMP-06","x":20.5,"y":28.2,"lx":20.7,"ly":30},{"p":4,"label":"TMP-07","x":5.9,"y":27.2,"lx":5.3,"ly":29},{"p":4,"label":"TMP-08","x":11.6,"y":23.6,"lx":11.8,"ly":25.6},{"p":4,"label":"TMP-09","x":33.5,"y":24.5,"lx":32.3,"ly":26.3},{"p":4,"label":"TMP-10","x":21,"y":20.5,"lx":20.3,"ly":22.3},{"p":4,"label":"TMP-11","x":3.2,"y":15,"lx":2.4,"ly":17},{"p":4,"label":"TMP-12","x":11.3,"y":13.4,"lx":10.6,"ly":14.7},{"p":4,"label":"TMP-13","x":19.6,"y":11.8,"lx":20.7,"ly":13.9},{"p":4,"label":"TMP-14","x":8.1,"y":5.8,"lx":7.5,"ly":8},{"p":4,"label":"TMP-15","x":20.5,"y":3.8,"lx":19.3,"ly":5.7},
{"p":5,"label":"TMP-01","x":6.6,"y":36.5,"lx":6.2,"ly":38.4},{"p":5,"label":"TMP-02","x":20.4,"y":38.6,"lx":20.4,"ly":40.2},{"p":5,"label":"TMP-03","x":34.7,"y":36.2,"lx":33.7,"ly":38.2},{"p":5,"label":"TMP-04","x":14.7,"y":31.9,"lx":14.7,"ly":34},{"p":5,"label":"TMP-05","x":31.7,"y":31.6,"lx":30.6,"ly":33},{"p":5,"label":"TMP-06","x":20.5,"y":28.4,"lx":20.7,"ly":30.2},{"p":5,"label":"TMP-07","x":5.9,"y":27.4,"lx":5.4,"ly":29.2},{"p":5,"label":"TMP-08","x":11.6,"y":23.8,"lx":11.8,"ly":25.8},{"p":5,"label":"TMP-09","x":33.5,"y":24.8,"lx":32.3,"ly":26.5},{"p":5,"label":"TMP-10","x":21.1,"y":20.7,"lx":20.3,"ly":22.6},{"p":5,"label":"TMP-11","x":3.2,"y":15.2,"lx":2.4,"ly":17.2},{"p":5,"label":"TMP-12","x":11.3,"y":13.7,"lx":10.6,"ly":14.9},{"p":5,"label":"TMP-13","x":19.6,"y":12.1,"lx":20.7,"ly":14.1},{"p":5,"label":"TMP-14","x":8.1,"y":6.1,"lx":7.6,"ly":8.2},{"p":5,"label":"TMP-15","x":20.5,"y":4.1,"lx":19.4,"ly":5.9},
{"p":6,"label":"TMP-01","x":6.8,"y":36.5,"lx":6.4,"ly":38.4},{"p":6,"label":"TMP-02","x":20.5,"y":38.6,"lx":20.6,"ly":40.2},{"p":6,"label":"TMP-03","x":34.9,"y":36.2,"lx":33.9,"ly":38.2},{"p":6,"label":"TMP-04","x":14.9,"y":31.9,"lx":14.9,"ly":34},{"p":6,"label":"TMP-05","x":31.8,"y":31.6,"lx":30.8,"ly":33},{"p":6,"label":"TMP-06","x":20.7,"y":28.4,"lx":20.9,"ly":30.2},{"p":6,"label":"TMP-07","x":6,"y":27.4,"lx":5.5,"ly":29.2},{"p":6,"label":"TMP-08","x":11.8,"y":23.8,"lx":12,"ly":25.8},{"p":6,"label":"TMP-09","x":33.7,"y":24.8,"lx":32.5,"ly":26.5},{"p":6,"label":"TMP-10","x":21.2,"y":20.7,"lx":20.5,"ly":22.6},{"p":6,"label":"TMP-11","x":3.4,"y":15.2,"lx":2.6,"ly":17.2},{"p":6,"label":"TMP-12","x":11.5,"y":13.7,"lx":10.7,"ly":14.9},{"p":6,"label":"TMP-13","x":19.8,"y":12.1,"lx":20.9,"ly":14.1},{"p":6,"label":"TMP-14","x":8.3,"y":6.1,"lx":7.7,"ly":8.2},{"p":6,"label":"TMP-15","x":20.7,"y":4.1,"lx":19.5,"ly":5.9},
{"p":7,"label":"TMP-01","x":6.6,"y":36.6,"lx":6.2,"ly":38.4},{"p":7,"label":"TMP-02","x":20.3,"y":38.6,"lx":20.4,"ly":40.2},{"p":7,"label":"TMP-03","x":34.7,"y":36.2,"lx":33.7,"ly":38.2},{"p":7,"label":"TMP-04","x":14.7,"y":32,"lx":14.6,"ly":34},{"p":7,"label":"TMP-05","x":31.6,"y":31.7,"lx":30.6,"ly":33.1},{"p":7,"label":"TMP-06","x":20.5,"y":28.5,"lx":20.7,"ly":30.3},{"p":7,"label":"TMP-07","x":5.8,"y":27.5,"lx":5.3,"ly":29.3},{"p":7,"label":"TMP-08","x":11.6,"y":23.9,"lx":11.8,"ly":25.9},{"p":7,"label":"TMP-09","x":33.4,"y":24.8,"lx":32.3,"ly":26.5},{"p":7,"label":"TMP-10","x":21,"y":20.7,"lx":20.2,"ly":22.6},{"p":7,"label":"TMP-11","x":3.1,"y":15.3,"lx":2.3,"ly":17.3},{"p":7,"label":"TMP-12","x":11.3,"y":13.7,"lx":10.5,"ly":15},{"p":7,"label":"TMP-13","x":19.6,"y":12.1,"lx":20.7,"ly":14.2},{"p":7,"label":"TMP-14","x":8.1,"y":6.1,"lx":7.5,"ly":8.2},{"p":7,"label":"TMP-15","x":20.5,"y":4.1,"lx":19.3,"ly":5.9},
{"p":8,"label":"TMP-01","x":6.6,"y":36.5,"lx":6.1,"ly":38.4},{"p":8,"label":"TMP-02","x":20.3,"y":38.6,"lx":20.4,"ly":40.2},{"p":8,"label":"TMP-03","x":34.7,"y":36.2,"lx":33.6,"ly":38.2},{"p":8,"label":"TMP-04","x":14.7,"y":31.9,"lx":14.6,"ly":34},{"p":8,"label":"TMP-05","x":31.6,"y":31.6,"lx":30.5,"ly":33},{"p":8,"label":"TMP-06","x":20.4,"y":28.4,"lx":20.7,"ly":30.2},{"p":8,"label":"TMP-07","x":5.8,"y":27.4,"lx":5.3,"ly":29.2},{"p":8,"label":"TMP-08","x":11.6,"y":23.8,"lx":11.7,"ly":25.8},{"p":8,"label":"TMP-09","x":33.4,"y":24.8,"lx":32.2,"ly":26.5},{"p":8,"label":"TMP-10","x":21,"y":20.7,"lx":20.2,"ly":22.6},{"p":8,"label":"TMP-11","x":3.1,"y":15.2,"lx":2.3,"ly":17.2},{"p":8,"label":"TMP-12","x":11.3,"y":13.7,"lx":10.5,"ly":14.9},{"p":8,"label":"TMP-13","x":19.5,"y":12.1,"lx":20.7,"ly":14.1},{"p":8,"label":"TMP-14","x":8,"y":6.1,"lx":7.5,"ly":8.2},{"p":8,"label":"TMP-15","x":20.4,"y":4.1,"lx":19.3,"ly":5.9},
{"p":1,"o":0,"ox":1.27,"oy":41.63},{"p":1,"o":1,"ox":39.67,"oy":41.11},{"p":1,"o":2,"ox":39.2,"oy":22.3},{"p":1,"o":3,"ox":25.54,"oy":22.46},{"p":1,"o":4,"ox":25.12,"oy":-0.04},{"p":1,"o":5,"ox":0.21,"oy":-0.28},{"p":1,"o":6,"ox":1.27,"oy":41.63},
{"p":2,"o":0,"ox":0.68,"oy":41.7},{"p":2,"o":1,"ox":39.2,"oy":41.3},{"p":2,"o":2,"ox":38.6,"oy":22.38},{"p":2,"o":3,"ox":24.98,"oy":22.58},{"p":2,"o":4,"ox":24.55,"oy":0.04},{"p":2,"o":5,"ox":-0.38,"oy":-0.12},{"p":2,"o":6,"ox":0.68,"oy":41.7},
{"p":3,"o":0,"ox":0.89,"oy":41.7},{"p":3,"o":1,"ox":39.5,"oy":41.35},{"p":3,"o":2,"ox":38.8,"oy":22.38},{"p":3,"o":3,"ox":25.2,"oy":22.58},{"p":3,"o":4,"ox":24.78,"oy":0.04},{"p":3,"o":5,"ox":-0.21,"oy":-0.12},{"p":3,"o":6,"ox":0.89,"oy":41.7},
{"p":4,"o":0,"ox":1.3,"oy":41.7},{"p":4,"o":1,"ox":39.79,"oy":41.3},{"p":4,"o":2,"ox":39.08,"oy":22.38},{"p":4,"o":3,"ox":25.5,"oy":22.58},{"p":4,"o":4,"ox":25.08,"oy":0.04},{"p":4,"o":5,"ox":0.17,"oy":-0.12},{"p":4,"o":6,"ox":1.3,"oy":41.7},
{"p":5,"o":0,"ox":1.27,"oy":41.9},{"p":5,"o":1,"ox":39.67,"oy":41.5},{"p":5,"o":2,"ox":39.12,"oy":22.66},{"p":5,"o":3,"ox":25.54,"oy":22.86},{"p":5,"o":4,"ox":25.12,"oy":0.28},{"p":5,"o":5,"ox":0.21,"oy":0.12},{"p":5,"o":6,"ox":1.27,"oy":41.9},
{"p":6,"o":0,"ox":1.45,"oy":42},{"p":6,"o":1,"ox":39.96,"oy":41.55},{"p":6,"o":2,"ox":39.3,"oy":22.66},{"p":6,"o":3,"ox":25.74,"oy":22.86},{"p":6,"o":4,"ox":25.32,"oy":0.28},{"p":6,"o":5,"ox":0.38,"oy":0.12},{"p":6,"o":6,"ox":1.45,"oy":42},
{"p":7,"o":0,"ox":1.28,"oy":42.1},{"p":7,"o":1,"ox":39.74,"oy":41.63},{"p":7,"o":2,"ox":39.1,"oy":22.7},{"p":7,"o":3,"ox":25.5,"oy":22.86},{"p":7,"o":4,"ox":25.16,"oy":0.28},{"p":7,"o":5,"ox":0.13,"oy":0.12},{"p":7,"o":6,"ox":1.28,"oy":42.1},
{"p":8,"o":0,"ox":1.3,"oy":42},{"p":8,"o":1,"ox":39.58,"oy":41.55},{"p":8,"o":2,"ox":39.08,"oy":22.66},{"p":8,"o":3,"ox":25.5,"oy":22.9},{"p":8,"o":4,"ox":25.08,"oy":0.28},{"p":8,"o":5,"ox":0.17,"oy":0.12},{"p":8,"o":6,"ox":1.3,"oy":42},
{"p":1,"title":"GL-1m","tx":1.44,"ty":43.1},{"p":2,"title":"GL-2m","tx":1.02,"ty":43.2},{"p":3,"title":"GL-3m","tx":1.19,"ty":43.4},{"p":4,"title":"GL-4m","tx":1.47,"ty":43.4},{"p":5,"title":"GL-5m","tx":1.44,"ty":43.1},{"p":6,"title":"GL-6m","tx":1.02,"ty":43.3},{"p":7,"title":"GL-7m","tx":1.19,"ty":43.5},{"p":8,"title":"GL-7.5m","tx":1.47,"ty":43.5}
]},"facet":{"field":"p","type":"ordinal","header":{"labels":false,"title":null,"labelExpr":"''","labelFontSize":0.01,"labelPadding":0,"titlePadding":0}},"columns":4,"bounds":"flush","spacing":{"column":13.2,"row":40.4},"resolve":{"scale":{"color":"independent"},"legend":{"color":"independent"},"axis":{"x":"independent","y":"independent"}},"spec":{"width":541.3,"height":480.6,"layer":[
{"data":{"values":[{"x":0,"x2":0,"y":-2.42,"y2":51.15},{"x":10,"x2":10,"y":-2.42,"y2":51.15},{"x":20,"x2":20,"y":-2.42,"y2":51.15},{"x":30,"x2":30,"y":-2.42,"y2":51.15},{"x":-1.9,"x2":39.5,"y":0,"y2":0},{"x":-1.9,"x2":39.5,"y":20,"y2":20},{"x":-1.9,"x2":39.5,"y":40,"y2":40}]},"mark":{"type":"rule","color":"#777","strokeWidth":1},"encoding":{"x":{"field":"x","type":"quantitative","scale":{"domain":[-10.32,54.1],"nice":false,"zero":false},"axis":{"values":[0,10,20,30],"orient":"bottom","offset":-18,"grid":false,"domain":false,"ticks":false,"labelFontSize":11.5,"labelFont":"Liberation Sans","labelColor":"#444","labelPadding":3,"title":null}},"x2":{"field":"x2"},"y":{"field":"y","type":"quantitative","scale":{"domain":[-4.6,52.6],"nice":false,"zero":false},"axis":{"values":[0,20,40],"orient":"right","offset":-122.7,"grid":false,"domain":false,"ticks":false,"labelFontSize":11.5,"labelFont":"Liberation Sans","labelColor":"#444","labelPadding":6,"title":null}},"y2":{"field":"y2"}}},
{"transform":[{"filter":"datum.t>0"}],"mark":{"type":"rect","width":16.85,"height":21.6,"opacity":0.9},"encoding":{"x":{"field":"x","type":"quantitative"},"y":{"field":"y","type":"quantitative"},"color":{"field":"t","type":"quantitative","title":"Temp","scale":{"type":"threshold","domain":[5,10,15,20,25,30,35,40,45,50,55,60,65,70,75,80,85],"range":["#000080","#0000a0","#0000c0","#0000f0","#0030ff","#0078ff","#00c0ff","#10ffef","#55ff9f","#aaff55","#eeff10","#ffc000","#ff7800","#ff3000","#f00000","#c00000","#a00000","#800000"]},"legend":{"type":"gradient","orient":"none","legendX":465,"legendY":170,"gradientLength":245,"gradientThickness":18,"labelOffset":9,"labelFontSize":12.5,"labelFont":"Liberation Sans","labelColor":"#333","titleFontSize":13,"titleFontWeight":"normal","titleFont":"Liberation Sans","titleColor":"#444","titleAnchor":"end","labelOverlap":false}}}},
{"data":{"values":[{"x":-1.9,"x2":39.5,"y":-2.42,"y2":51.15}]},"mark":{"type":"rect","fill":null,"stroke":"#333","strokeWidth":1.8},"encoding":{"x":{"field":"x","type":"quantitative"},"x2":{"field":"x2"},"y":{"field":"y","type":"quantitative"},"y2":{"field":"y2"}}},
{"data":{"values":[{"v":2},{"v":4},{"v":6},{"v":8},{"v":12},{"v":14},{"v":16},{"v":18},{"v":22},{"v":24},{"v":26},{"v":28},{"v":32},{"v":34},{"v":36},{"v":38}]},"mark":{"type":"tick","orient":"vertical","size":5,"thickness":1,"color":"#555","yOffset":-2.5},"encoding":{"x":{"field":"v","type":"quantitative"},"y":{"datum":-2.42,"type":"quantitative"}}},
{"data":{"values":[{"v":5},{"v":10},{"v":15},{"v":25},{"v":30},{"v":35},{"v":45},{"v":50}]},"mark":{"type":"tick","orient":"horizontal","size":5,"thickness":1,"color":"#555","xOffset":-2.5},"encoding":{"y":{"field":"v","type":"quantitative"},"x":{"datum":39.5,"type":"quantitative"}}},
{"data":{"values":[{"x":44.5,"x2":44.5,"y":44.1,"y2":49.8},{"x":44.5,"x2":50.2,"y":44.1,"y2":44.1}]},"mark":{"type":"rule","color":"#333","strokeWidth":2},"encoding":{"x":{"field":"x","type":"quantitative"},"x2":{"field":"x2"},"y":{"field":"y","type":"quantitative"},"y2":{"field":"y2"}}},
{"data":{"values":[{"x":44.5,"x2":46.2,"y":44.1,"y2":45.8}]},"mark":{"type":"rect","fill":null,"stroke":"#999","strokeWidth":1.2},"encoding":{"x":{"field":"x","type":"quantitative"},"x2":{"field":"x2"},"y":{"field":"y","type":"quantitative"},"y2":{"field":"y2"}}},
{"data":{"values":[{"x":44.5,"y":51.1,"s":"Y"},{"x":51.5,"y":44.1,"s":"X"},{"x":40.9,"y":-2.42,"s":"-5"}]},"mark":{"type":"text","font":"Liberation Sans","fontSize":13,"color":"#444"},"encoding":{"x":{"field":"x","type":"quantitative"},"y":{"field":"y","type":"quantitative"},"text":{"field":"s"}}},
{"data":{"values":[{"x":43.3,"y":24.3,"s":"Y"},{"x":43.3,"y":-2.42,"s":"Z"}]},"mark":{"type":"text","font":"Liberation Sans","fontSize":12,"fontWeight":"bold","color":"#222","angle":270},"encoding":{"x":{"field":"x","type":"quantitative"},"y":{"field":"y","type":"quantitative"},"text":{"field":"s"}}},
{"transform":[{"filter":"datum.o>=0"}],"mark":{"type":"line","color":"black","strokeWidth":4.8,"strokeJoin":"miter"},"encoding":{"x":{"field":"ox","type":"quantitative"},"y":{"field":"oy","type":"quantitative"},"order":{"field":"o"}}},
{"transform":[{"filter":"datum.label"}],"mark":{"type":"point","filled":false,"size":270,"stroke":"black","strokeWidth":5.2,"opacity":1},"encoding":{"x":{"field":"x","type":"quantitative"},"y":{"field":"y","type":"quantitative"}}},
{"transform":[{"filter":"datum.label"}],"mark":{"type":"text","font":"DejaVu Sans","fontSize":18,"color":"#111"},"encoding":{"x":{"field":"lx","type":"quantitative"},"y":{"field":"ly","type":"quantitative"},"text":{"field":"label"}}},
{"transform":[{"filter":"datum.title"}],"mark":{"type":"text","font":"Noto Sans","fontSize":48,"color":"#111","align":"left","baseline":"alphabetic"},"encoding":{"x":{"field":"tx","type":"quantitative"},"y":{"field":"ty","type":"quantitative"},"text":{"field":"title"}}}
]}}
